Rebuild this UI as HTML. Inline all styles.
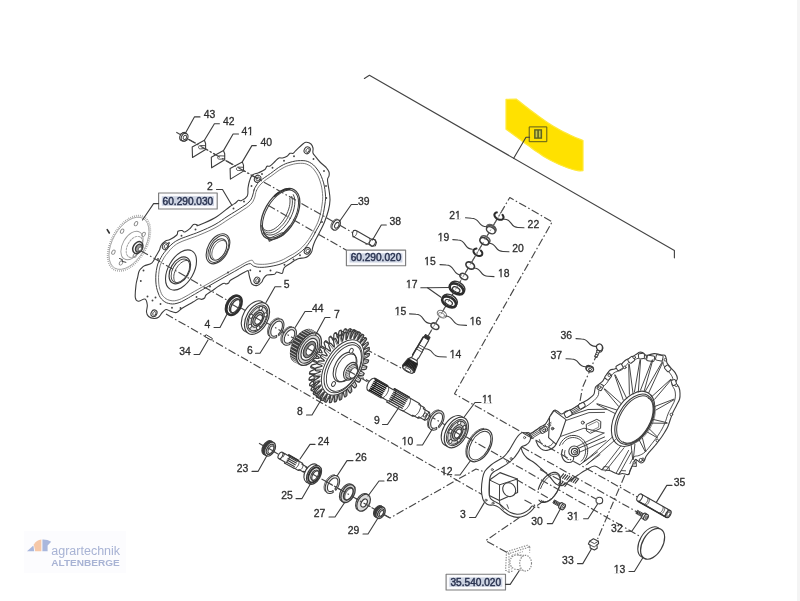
<!DOCTYPE html>
<html><head><meta charset="utf-8"><title>Parts diagram</title>
<style>
html,body{margin:0;padding:0;background:#fff;}
body{width:800px;height:601px;overflow:hidden;position:relative;font-family:"Liberation Sans",sans-serif;}
svg{position:absolute;left:0;top:0;display:block;filter:blur(0.45px);}
svg text{font-family:"Liberation Sans",sans-serif;}
.edge{position:absolute;right:0;top:0;width:3px;height:601px;background:#f4f4f4;}
</style></head><body>
<svg width="800" height="601" viewBox="0 0 800 601" fill="none" stroke-linecap="round" stroke-linejoin="round">
<path d="M506,99.4 L516.5,99.2 C519.0,101.2 519.5,101.7 525.0,106.0 C530.5,110.3 528.7,109.0 535.0,113.6 C541.3,118.2 539.2,116.9 546.0,121.4 C552.8,125.9 550.3,124.5 557.5,128.6 C564.7,132.7 562.4,131.4 570.0,135.0 C577.6,138.6 579.1,138.9 583.0,140.6 L583,170.6 L580.5,171.0 C576.8,170.1 577.1,171.3 568.0,168.0 C558.9,164.7 559.0,164.6 550.0,160.0 C541.0,155.4 544.8,157.1 538.0,152.6 C531.2,148.1 534.1,149.8 527.5,145.0 C520.9,140.2 522.5,141.3 516.0,136.6 C509.6,131.9 509.0,131.4 506.0,129.2 Z" stroke="#ffe93a" stroke-width="1.2" fill="#ffe100" />
<path d="M364.4,78.5 L369.4,75.3 L674.4,250.6 L674.4,257.8" stroke="#444" stroke-width="1.15" fill="none" />
<rect x="529.6" y="126.9" width="17.2" height="14.8" fill="#ffe100" stroke="#5c5a1c" stroke-width="1"/>
<rect x="534.1" y="129.2" width="8" height="9.6" fill="#5f6420" stroke="none"/>
<rect x="535.6" y="130.6" width="1.7" height="6.8" fill="#c9c94a"/>
<rect x="538.9" y="130.6" width="1.7" height="6.8" fill="#c9c94a"/>
<path d="M529.6,137.2 L526.0,137.2 L513.7,158.3" stroke="#3d3d3d" stroke-width="1.1" fill="none" stroke-linejoin="round"/>
<ellipse cx="129.0" cy="243.3" rx="17.50" ry="30.30" transform="rotate(29.7 129.0 243.3)" stroke="#999" stroke-width="1.7" fill="none" stroke-dasharray="0.8 1.2" stroke-linecap="butt"/>
<ellipse cx="129.0" cy="243.3" rx="16.30" ry="28.60" transform="rotate(29.7 129.0 243.3)" stroke="#9a9a9a" stroke-width="0.8" fill="none" />
<ellipse cx="134.9" cy="255.4" rx="1.50" ry="2.30" transform="rotate(29.7 134.9 255.4)" stroke="#8a8a8a" stroke-width="0.9" fill="none" />
<ellipse cx="121.0" cy="262.9" rx="1.50" ry="2.30" transform="rotate(29.7 121.0 262.9)" stroke="#8a8a8a" stroke-width="0.9" fill="none" />
<ellipse cx="113.4" cy="252.2" rx="1.50" ry="2.30" transform="rotate(29.7 113.4 252.2)" stroke="#8a8a8a" stroke-width="0.9" fill="none" />
<ellipse cx="122.1" cy="231.2" rx="1.50" ry="2.30" transform="rotate(29.7 122.1 231.2)" stroke="#8a8a8a" stroke-width="0.9" fill="none" />
<ellipse cx="136.0" cy="223.7" rx="1.50" ry="2.30" transform="rotate(29.7 136.0 223.7)" stroke="#8a8a8a" stroke-width="0.9" fill="none" />
<ellipse cx="143.6" cy="234.4" rx="1.50" ry="2.30" transform="rotate(29.7 143.6 234.4)" stroke="#8a8a8a" stroke-width="0.9" fill="none" />
<ellipse cx="132.0" cy="245.5" rx="9.30" ry="15.50" transform="rotate(29.7 132.0 245.5)" stroke="#9a9a9a" stroke-width="0.9" fill="none" />
<ellipse cx="134.5" cy="246.9" rx="7.00" ry="11.50" transform="rotate(29.7 134.5 246.9)" stroke="#9a9a9a" stroke-width="0.9" fill="none" stroke-dasharray="2 1.2"/>
<ellipse cx="137.8" cy="247.6" rx="4.60" ry="6.40" transform="rotate(29.7 137.8 247.6)" stroke="#3a3a3a" stroke-width="1.5" fill="#fff" />
<ellipse cx="138.8" cy="248.2" rx="3.00" ry="4.20" transform="rotate(29.7 138.8 248.2)" stroke="#3a3a3a" stroke-width="1.4" fill="#9a9a9a" />
<ellipse cx="140.0" cy="248.9" rx="1.50" ry="2.20" transform="rotate(29.7 140.0 248.9)" stroke="#555" stroke-width="0.8" fill="#fff" />
<path d="M119.5,258.5 l3,1.2 l-0.6,1.6 l4,1" stroke="#444" stroke-width="1"/>
<path d="M306.5,142.3 C307.9,142.4 309.8,143.0 311.0,144.0 C312.2,145.0 312.6,146.3 313.0,148.0 C313.4,149.7 312.5,151.4 313.0,153.0 C313.5,154.6 314.2,154.8 315.5,156.5 C316.8,158.2 318.4,160.3 320.0,162.0 C321.6,163.7 323.3,164.9 324.5,166.0 C325.7,167.1 325.7,166.9 326.5,168.0 C327.3,169.1 328.5,170.5 329.0,172.0 C329.5,173.5 329.3,174.5 329.0,176.0 C328.7,177.5 327.5,177.4 327.5,180.0 C327.5,182.6 328.5,186.3 329.0,190.0 C329.5,193.7 330.1,196.3 330.0,200.0 C329.9,203.7 329.5,206.0 328.5,210.0 C327.5,214.0 326.2,217.7 324.5,222.0 C322.8,226.3 320.7,230.0 319.0,233.5 C317.3,237.0 316.1,238.5 315.0,241.0 C313.9,243.5 313.4,244.9 312.8,247.0 C312.2,249.1 312.4,250.6 311.5,252.3 C310.6,254.0 309.3,255.3 308.0,256.3 C306.7,257.3 306.1,257.4 304.5,257.8 C302.9,258.2 300.6,258.1 299.0,258.5 C297.4,258.9 297.0,259.2 295.5,260.0 C294.0,260.8 292.9,261.8 291.0,263.0 C289.1,264.2 286.4,265.5 285.0,266.8 C283.6,268.1 283.9,268.8 283.3,270.0 C282.8,271.2 283.2,273.1 282.0,273.5 C280.8,273.9 278.2,271.9 276.8,272.0 C275.4,272.1 276.3,273.8 274.5,274.3 C272.7,274.9 269.0,274.2 267.0,275.0 C265.0,275.8 264.5,277.2 263.5,278.5 C262.5,279.8 262.9,280.7 261.8,282.0 C260.7,283.3 259.1,285.1 257.3,285.5 C255.5,285.9 253.3,285.2 252.0,284.0 C250.7,282.8 250.8,280.9 250.2,279.2 C249.6,277.5 249.3,275.9 249.0,274.5 C248.7,273.1 248.8,272.3 248.4,271.6 C248.0,270.9 248.7,270.1 246.8,270.9 C244.9,271.7 241.0,274.3 238.0,276.0 C235.0,277.7 232.2,278.9 230.5,280.2 C228.8,281.5 229.4,282.3 228.6,283.0 C227.8,283.7 227.0,283.9 226.0,284.0 C225.0,284.1 225.7,282.3 223.0,283.6 C220.3,284.9 214.4,289.2 211.3,291.3 C208.2,293.4 207.2,293.8 206.0,295.0 C204.8,296.2 205.4,297.2 204.6,298.0 C203.8,298.8 202.6,299.3 201.5,299.4 C200.4,299.5 200.1,298.3 198.5,298.8 C196.9,299.3 195.9,300.3 193.0,302.0 C190.1,303.7 185.5,306.1 182.5,308.0 C179.5,309.9 178.8,311.9 176.5,312.5 C174.2,313.1 171.9,311.6 170.0,311.0 C168.1,310.4 167.4,309.2 166.0,309.5 C164.6,309.8 163.7,311.1 162.3,312.5 C160.9,313.9 160.0,316.2 158.5,317.3 C157.0,318.4 155.8,318.6 154.0,318.5 C152.2,318.4 150.0,317.7 148.6,316.5 C147.2,315.3 146.7,314.1 146.5,312.0 C146.3,309.9 147.6,307.4 147.3,305.0 C147.0,302.6 146.7,299.7 145.0,299.0 C143.3,298.3 140.1,301.6 138.3,301.3 C136.5,301.0 135.7,300.5 135.3,297.5 C134.9,294.5 135.6,288.6 136.0,285.0 C136.4,281.4 136.9,280.5 137.5,278.0 C138.1,275.5 138.3,273.3 139.0,271.5 C139.7,269.7 140.3,269.3 141.3,268.3 C142.3,267.3 142.5,266.8 144.5,265.8 C146.5,264.8 149.9,264.6 152.0,262.8 C154.1,261.0 154.6,258.3 156.0,256.0 C157.4,253.7 158.6,251.9 159.5,250.0 C160.4,248.1 159.9,247.2 161.0,245.5 C162.1,243.8 163.8,242.1 165.5,241.0 C167.2,239.9 167.9,240.6 170.0,239.5 C172.1,238.4 175.3,236.5 176.8,235.0 C178.3,233.5 177.0,232.1 178.0,231.3 C179.0,230.5 180.7,230.4 182.0,230.5 C183.3,230.6 183.5,232.4 185.0,232.0 C186.5,231.6 188.4,229.9 190.0,228.5 C191.6,227.1 192.2,225.2 193.5,224.5 C194.8,223.8 196.1,224.6 197.0,224.7 C197.9,224.8 195.2,226.6 198.5,225.3 C201.8,224.0 209.2,221.2 215.0,217.8 C220.8,214.4 226.2,209.2 230.0,206.5 C233.8,203.8 233.9,204.1 235.5,203.0 C237.1,201.9 237.4,200.8 238.5,200.3 C239.6,199.8 239.9,201.3 241.5,200.5 C243.1,199.7 246.1,198.3 247.3,196.0 C248.5,193.7 247.6,190.8 248.0,188.0 C248.4,185.2 248.7,183.4 249.5,181.0 C250.3,178.6 250.8,176.5 252.5,175.0 C254.2,173.5 256.3,173.8 258.5,172.8 C260.7,171.8 262.9,171.0 264.5,169.8 C266.1,168.6 266.0,167.0 267.0,166.3 C268.0,165.6 268.5,166.9 270.0,166.0 C271.5,165.1 273.4,163.0 275.0,161.5 C276.6,160.0 277.6,158.6 279.0,158.0 C280.4,157.4 281.0,158.3 282.5,158.0 C284.0,157.7 285.6,157.2 287.0,156.3 C288.4,155.4 288.9,153.9 290.0,153.3 C291.1,152.8 292.1,153.9 293.2,153.3 C294.3,152.8 294.1,152.1 296.0,150.3 C297.9,148.5 301.6,145.0 303.5,143.5 C305.4,142.0 305.1,142.2 306.5,142.3Z" stroke="#3d3d3d" stroke-width="1.1" fill="#fff" />
<path d="M254.0,190.0 C254.7,188.0 254.8,187.8 256.0,186.0 C257.2,184.2 257.1,183.5 260.0,181.0 C262.9,178.5 266.3,176.5 270.5,173.5 C274.7,170.5 277.1,168.2 281.0,166.0 C284.9,163.8 286.1,163.4 290.0,162.3 C293.9,161.2 296.6,160.6 300.5,160.6 C304.4,160.6 306.2,160.6 309.5,162.3 C312.8,164.0 314.4,165.6 317.0,169.0 C319.6,172.4 320.8,174.7 322.5,179.5 C324.2,184.3 324.8,187.9 325.3,193.0 C325.8,198.1 325.6,199.6 324.8,205.0 C324.0,210.4 323.2,215.0 321.5,220.0 C319.8,225.0 318.6,226.0 316.5,230.0 C314.4,234.0 313.4,236.3 311.0,240.0 C308.6,243.7 307.1,245.7 304.5,248.5 C301.9,251.3 300.7,252.0 298.0,254.0 C295.3,256.0 294.2,256.6 291.0,258.5 C287.8,260.4 286.2,261.9 282.0,263.5 C277.8,265.1 274.5,265.7 270.0,266.5 C265.5,267.3 262.8,267.4 259.5,267.3 C256.2,267.2 255.7,266.7 253.5,266.0 C251.3,265.3 252.1,262.9 248.6,263.8 C245.1,264.7 240.7,268.0 236.0,270.6 C231.3,273.2 231.2,273.3 225.0,276.8 C218.8,280.3 211.4,284.5 205.0,288.2 C198.6,291.9 197.0,292.9 193.0,295.2 C189.0,297.5 188.0,298.2 185.0,299.8 C182.0,301.4 180.9,302.2 178.0,303.0 C175.1,303.8 173.5,304.3 170.5,303.8 C167.5,303.3 165.5,302.7 163.0,300.5 C160.5,298.3 159.6,296.9 158.2,293.0 C156.8,289.1 156.0,286.2 155.8,281.0 C155.6,275.8 156.0,271.7 157.0,267.0 C158.0,262.3 159.3,260.7 161.0,257.5 C162.7,254.3 163.3,253.7 165.5,251.0 C167.7,248.3 169.3,246.3 172.0,244.0 C174.7,241.7 175.8,241.1 179.0,239.5 C182.2,237.9 183.8,237.6 188.0,236.0 C192.2,234.4 194.6,233.8 200.0,231.5 C205.4,229.2 209.4,227.6 215.0,224.5 C220.6,221.4 223.0,219.2 228.0,216.0 C233.0,212.8 235.8,211.3 240.0,208.5 C244.2,205.7 246.5,204.5 249.0,202.0 C251.5,199.5 251.5,198.4 252.5,196.0 C253.5,193.6 253.3,192.0 254.0,190.0Z" stroke="#3d3d3d" stroke-width="1" fill="none" />
<path d="M256.5,190.5 C258.0,187.5 258.9,186.0 262.0,183.0 C265.1,180.0 268.0,178.4 272.0,175.5 C276.0,172.6 278.2,170.6 282.0,168.5 C285.8,166.4 287.3,165.8 291.0,164.8 C294.7,163.8 297.0,163.3 300.5,163.3 C304.0,163.3 305.6,163.5 308.5,165.0 C311.4,166.5 312.7,167.8 315.0,171.0 C317.3,174.2 318.5,176.5 320.0,181.0 C321.5,185.5 322.1,188.7 322.5,193.5 C322.9,198.3 322.7,199.9 322.0,205.0 C321.3,210.1 320.6,214.0 319.0,219.0 C317.4,224.0 316.1,225.9 314.0,230.0 C311.9,234.1 310.8,236.1 308.5,239.5 C306.2,242.9 305.0,244.2 302.5,246.8 C300.0,249.4 298.7,250.4 296.0,252.3 C293.3,254.2 292.0,254.7 289.0,256.3 C286.0,257.9 284.8,259.0 281.0,260.5 C277.2,262.0 274.2,262.8 270.0,263.6 C265.8,264.4 263.1,264.4 260.0,264.3 C256.9,264.2 256.4,264.0 254.5,263.2 C252.6,262.4 254.1,259.6 250.6,260.4 C247.1,261.2 241.9,264.8 237.0,267.4 C232.1,270.0 232.2,270.1 226.0,273.6 C219.8,277.1 212.6,281.2 206.0,284.9 C199.4,288.6 197.2,289.8 193.0,292.2 C188.8,294.6 188.0,295.2 185.0,296.8 C182.0,298.4 180.8,299.2 178.0,300.0 C175.2,300.8 173.7,301.1 171.0,300.6 C168.3,300.1 166.7,299.4 164.6,297.6 C162.5,295.8 161.8,294.8 160.6,291.5 C159.4,288.2 158.8,285.7 158.6,281.0 C158.4,276.3 158.7,272.4 159.6,268.0 C160.5,263.6 161.7,262.0 163.3,259.0 C164.9,256.0 165.5,255.5 167.5,253.0 C169.5,250.5 171.0,248.6 173.5,246.5 C176.0,244.4 176.9,243.8 180.0,242.3 C183.1,240.8 184.8,240.4 189.0,238.8 C193.2,237.2 195.6,236.6 201.0,234.3 C206.4,232.0 210.4,230.4 216.0,227.3 C221.6,224.2 224.0,222.2 229.0,219.0 C234.0,215.8 236.7,214.2 241.0,211.3 C245.3,208.4 247.8,207.2 250.5,204.5 C253.2,201.8 253.3,200.8 254.5,198.0 C255.7,195.2 255.0,193.5 256.5,190.5Z" stroke="#5a5a5a" stroke-width="0.8" fill="none" />
<ellipse cx="307.2" cy="150.3" rx="2.94" ry="3.56" transform="rotate(29.7 307.2 150.3)" stroke="#3d3d3d" stroke-width="1.05" fill="#fff" />
<ellipse cx="307.6" cy="150.5" rx="1.61" ry="2.05" transform="rotate(29.7 307.6 150.5)" stroke="#3d3d3d" stroke-width="0.85" fill="none" />
<ellipse cx="257.6" cy="178.8" rx="3.04" ry="3.68" transform="rotate(29.7 257.6 178.8)" stroke="#3d3d3d" stroke-width="1.05" fill="#fff" />
<ellipse cx="258.0" cy="179.0" rx="1.66" ry="2.11" transform="rotate(29.7 258.0 179.0)" stroke="#3d3d3d" stroke-width="0.85" fill="none" />
<ellipse cx="165.5" cy="246.3" rx="2.94" ry="3.56" transform="rotate(29.7 165.5 246.3)" stroke="#3d3d3d" stroke-width="1.05" fill="#fff" />
<ellipse cx="165.9" cy="246.5" rx="1.61" ry="2.05" transform="rotate(29.7 165.9 246.5)" stroke="#3d3d3d" stroke-width="0.85" fill="none" />
<ellipse cx="154.0" cy="313.3" rx="2.85" ry="3.45" transform="rotate(29.7 154.0 313.3)" stroke="#3d3d3d" stroke-width="1.05" fill="#fff" />
<ellipse cx="154.4" cy="313.5" rx="1.56" ry="1.98" transform="rotate(29.7 154.4 313.5)" stroke="#3d3d3d" stroke-width="0.85" fill="none" />
<ellipse cx="256.9" cy="280.3" rx="2.75" ry="3.33" transform="rotate(29.7 256.9 280.3)" stroke="#3d3d3d" stroke-width="1.05" fill="#fff" />
<ellipse cx="257.3" cy="280.5" rx="1.51" ry="1.91" transform="rotate(29.7 257.3 280.5)" stroke="#3d3d3d" stroke-width="0.85" fill="none" />
<ellipse cx="307.3" cy="250.8" rx="2.85" ry="3.45" transform="rotate(29.7 307.3 250.8)" stroke="#3d3d3d" stroke-width="1.05" fill="#fff" />
<ellipse cx="307.7" cy="251.0" rx="1.56" ry="1.98" transform="rotate(29.7 307.7 251.0)" stroke="#3d3d3d" stroke-width="0.85" fill="none" />
<circle cx="313.5" cy="159" r="0.95" fill="#444" stroke="none"/>
<circle cx="324" cy="171" r="0.95" fill="#444" stroke="none"/>
<circle cx="326.3" cy="198" r="0.95" fill="#444" stroke="none"/>
<circle cx="326" cy="186" r="0.95" fill="#444" stroke="none"/>
<circle cx="322" cy="222" r="0.95" fill="#444" stroke="none"/>
<circle cx="300" cy="255.3" r="0.95" fill="#444" stroke="none"/>
<circle cx="293.5" cy="259.5" r="0.95" fill="#444" stroke="none"/>
<circle cx="284.5" cy="264.7" r="0.95" fill="#444" stroke="none"/>
<circle cx="270.5" cy="270.5" r="0.95" fill="#444" stroke="none"/>
<circle cx="260" cy="271.3" r="0.95" fill="#444" stroke="none"/>
<circle cx="250.3" cy="270.3" r="0.95" fill="#444" stroke="none"/>
<circle cx="228" cy="272.5" r="0.95" fill="#444" stroke="none"/>
<circle cx="210" cy="286.5" r="0.95" fill="#444" stroke="none"/>
<circle cx="196.5" cy="297" r="0.95" fill="#444" stroke="none"/>
<circle cx="180.5" cy="308" r="0.95" fill="#444" stroke="none"/>
<circle cx="172" cy="307.8" r="0.95" fill="#444" stroke="none"/>
<circle cx="152.5" cy="300.5" r="0.95" fill="#444" stroke="none"/>
<circle cx="147.5" cy="296.5" r="0.95" fill="#444" stroke="none"/>
<circle cx="140.8" cy="281" r="0.95" fill="#444" stroke="none"/>
<circle cx="143.5" cy="270.5" r="0.95" fill="#444" stroke="none"/>
<circle cx="158" cy="259" r="0.95" fill="#444" stroke="none"/>
<circle cx="169" cy="243" r="0.95" fill="#444" stroke="none"/>
<circle cx="181.5" cy="235.8" r="0.95" fill="#444" stroke="none"/>
<circle cx="195.5" cy="229.5" r="0.95" fill="#444" stroke="none"/>
<circle cx="233.5" cy="208.5" r="0.95" fill="#444" stroke="none"/>
<circle cx="244" cy="201.5" r="0.95" fill="#444" stroke="none"/>
<circle cx="251.5" cy="186" r="0.95" fill="#444" stroke="none"/>
<circle cx="262" cy="174" r="0.95" fill="#444" stroke="none"/>
<circle cx="272.5" cy="167.8" r="0.95" fill="#444" stroke="none"/>
<circle cx="284" cy="160.8" r="0.95" fill="#444" stroke="none"/>
<circle cx="294" cy="156.2" r="0.95" fill="#444" stroke="none"/>
<circle cx="160.5" cy="304" r="0.95" fill="#444" stroke="none"/>
<circle cx="155.5" cy="297.5" r="0.95" fill="#444" stroke="none"/>
<ellipse cx="280.3" cy="214.0" rx="15.90" ry="28.00" transform="rotate(29.7 280.3 214.0)" stroke="#3d3d3d" stroke-width="1.25" fill="#fff" />
<ellipse cx="280.5" cy="214.1" rx="14.40" ry="26.30" transform="rotate(29.7 280.5 214.1)" stroke="#3d3d3d" stroke-width="1" fill="none" />
<path d="M293.3,194.7 L294.2,196.8 L294.7,199.2 L294.9,201.8 L294.7,204.7 L294.2,207.8 L293.4,211.0 L292.2,214.2 L290.8,217.4 L289.0,220.5 L287.1,223.4 L284.9,226.1 L282.7,228.6 L280.3,230.7 L277.9,232.4 L275.5,233.7 L273.2,234.6 L270.9,235.0 L268.8,235.0 L267.0,234.5 L265.3,233.5 L264.0,232.1 L262.9,230.3 L262.2,228.1 L261.8,225.6" stroke="#3d3d3d" stroke-width="0.95" fill="none" />
<path d="M291.7,196.4 L292.2,198.4 L292.4,200.7 L292.4,203.1 L292.1,205.7 L291.4,208.5 L290.6,211.3 L289.4,214.1 L288.1,216.9 L286.5,219.6 L284.8,222.2 L282.9,224.6 L280.9,226.7 L278.8,228.6 L276.7,230.2 L274.7,231.4 L272.6,232.3 L270.7,232.8 L268.8,232.9 L267.1,232.7 L265.6,232.0 L264.4,231.0 L263.3,229.6 L262.5,227.9 L262.0,225.9" stroke="#3d3d3d" stroke-width="0.9" fill="none" />
<path d="M289.8,198.1 L290.0,200.0 L290.0,202.0 L289.8,204.3 L289.4,206.6 L288.7,209.1 L287.8,211.5 L286.8,214.0 L285.5,216.4 L284.1,218.8 L282.6,221.0 L280.9,223.1 L279.2,225.0 L277.4,226.6 L275.6,228.0 L273.8,229.2 L272.0,230.0 L270.3,230.6 L268.7,230.8 L267.2,230.8 L265.9,230.4 L264.7,229.7 L263.7,228.7 L262.9,227.4 L262.3,225.9" stroke="#3d3d3d" stroke-width="0.9" fill="none" />
<path d="M274.8,196.0 L275.4,195.4 L276.0,194.9 L276.7,194.3 L277.3,193.8 L277.9,193.3 L278.6,192.9 L279.2,192.4 L279.9,192.0 L280.5,191.6 L281.1,191.3 L281.8,190.9 L282.4,190.6 L283.1,190.3 L283.7,190.0 L284.3,189.8 L284.9,189.6 L285.6,189.4 L286.2,189.3 L286.8,189.1 L287.4,189.0 L288.0,189.0 L288.5,188.9 L289.1,188.9 L289.7,188.9" stroke="#333" stroke-width="2.0" fill="none" />
<path d="M263.4,232.6 L268.4,238.8 L269.3,241.2 L282.8,235.2 L283.6,232.8 L289.6,226.0" stroke="#3d3d3d" stroke-width="1.05" fill="none" />
<path d="M268.4,238.8 L281.8,232.8 L283.6,232.8" stroke="#3d3d3d" stroke-width="0.9" fill="none" />
<ellipse cx="218.0" cy="248.8" rx="10.00" ry="16.30" transform="rotate(29.7 218.0 248.8)" stroke="#3d3d3d" stroke-width="1.1" fill="#fff" />
<ellipse cx="218.4" cy="249.0" rx="8.70" ry="14.60" transform="rotate(29.7 218.4 249.0)" stroke="#3d3d3d" stroke-width="0.9" fill="none" />
<ellipse cx="218.3" cy="249.5" rx="7.20" ry="11.60" transform="rotate(29.7 218.3 249.5)" stroke="#3d3d3d" stroke-width="1.1" fill="none" />
<path d="M214.1,259.0 L213.5,258.6 L212.9,257.9 L212.5,257.2 L212.1,256.3 L211.9,255.3 L211.8,254.2 L211.9,253.1 L212.1,251.9 L212.4,250.6 L212.8,249.4 L213.3,248.1 L213.9,246.9 L214.6,245.8 L215.4,244.7 L216.3,243.7 L217.2,242.8 L218.2,242.1 L219.1,241.4 L220.1,241.0 L221.1,240.6 L222.0,240.5 L222.9,240.5 L223.7,240.6 L224.5,241.0" stroke="#3d3d3d" stroke-width="0.8" fill="none" />
<ellipse cx="181.0" cy="270.0" rx="12.70" ry="22.00" transform="rotate(29.7 181.0 270.0)" stroke="#3d3d3d" stroke-width="1.1" fill="#fff" />
<ellipse cx="179.8" cy="270.4" rx="9.20" ry="14.60" transform="rotate(29.7 179.8 270.4)" stroke="#3d3d3d" stroke-width="1.2" fill="none" />
<ellipse cx="180.4" cy="270.8" rx="7.80" ry="12.80" transform="rotate(29.7 180.4 270.8)" stroke="#3d3d3d" stroke-width="0.9" fill="none" />
<path d="M177.5,283.4 L176.5,283.0 L175.7,282.5 L175.0,281.6 L174.4,280.6 L174.0,279.4 L173.8,278.1 L173.8,276.6 L173.9,275.0 L174.3,273.4 L174.8,271.7 L175.5,270.1 L176.3,268.4 L177.3,266.9 L178.4,265.4 L179.6,264.1 L180.8,263.0 L182.1,262.1 L183.4,261.3 L184.6,260.8 L185.9,260.5 L187.0,260.5 L188.1,260.7 L189.0,261.2 L189.8,261.8" stroke="#3d3d3d" stroke-width="0.9" fill="none" />
<path d="M176.3,132.3 L372.0,243.6" stroke="#484848" stroke-width="1.15" fill="none" stroke-dasharray="8 2.4 1.6 2.4" stroke-dashoffset="0.00" stroke-linecap="butt"/>
<path d="M268.0,205.3 L346.5,250.3" stroke="#484848" stroke-width="1.15" fill="none" stroke-dasharray="8 2.4 1.6 2.4" stroke-dashoffset="0.00" stroke-linecap="butt"/>
<path d="M107.2,229.6 L109.3,233" stroke="#333" stroke-width="1.6"/>
<path d="M141.0,250.9 L488.0,449.4" stroke="#484848" stroke-width="1.15" fill="none" stroke-dasharray="8 2.4 1.6 2.4" stroke-dashoffset="0.00" stroke-linecap="butt"/>
<path d="M166.0,314.0 L482.0,494.5" stroke="#484848" stroke-width="1.15" fill="none" stroke-dasharray="8 2.4 1.6 2.4" stroke-dashoffset="0.00" stroke-linecap="butt"/>
<path d="M259.0,443.2 L390.0,518.0 L476.0,469.0 L483.5,471.5" stroke="#484848" stroke-width="1.15" fill="none" stroke-dasharray="8 2.4 1.6 2.4" stroke-dashoffset="0.00" stroke-linecap="butt"/>
<path d="M365.0,348.8 L402.0,368.5" stroke="#484848" stroke-width="1.15" fill="none" stroke-dasharray="8 2.4 1.6 2.4" stroke-dashoffset="0.00" stroke-linecap="butt"/>
<path d="M427.5,337.0 L509.8,197.5 L552.2,221.8 L454.5,393.8 L523.0,433.0" stroke="#484848" stroke-width="1.15" fill="none" stroke-dasharray="8 2.4 1.6 2.4" stroke-dashoffset="0.00" stroke-linecap="butt"/>
<path d="M597.5,353.0 L582.5,387.5 L579.5,404.0" stroke="#484848" stroke-width="1.15" fill="none" stroke-dasharray="8 2.4 1.6 2.4" stroke-dashoffset="0.00" stroke-linecap="butt"/>
<path d="M611.0,507.5 L597.6,539.0" stroke="#484848" stroke-width="1.15" fill="none" stroke-dasharray="8 2.4 1.6 2.4" stroke-dashoffset="6.23" stroke-linecap="butt"/>
<path d="M543.8,500.9 L485.7,540.6 L507.0,552.5" stroke="#484848" stroke-width="1.15" fill="none" stroke-dasharray="8 2.4 1.6 2.4" stroke-dashoffset="0.00" stroke-linecap="butt"/>
<path d="M524.5,500.0 L539.4,507.9" stroke="#484848" stroke-width="1.15" fill="none" stroke-dasharray="8 2.4 1.6 2.4" stroke-dashoffset="0.00" stroke-linecap="butt"/>
<ellipse cx="183.3" cy="136.6" rx="3.30" ry="4.40" transform="rotate(29.7 183.3 136.6)" stroke="#3d3d3d" stroke-width="1.2" fill="#fff" />
<ellipse cx="184.6" cy="137.3" rx="3.10" ry="4.20" transform="rotate(29.7 184.6 137.3)" stroke="#3d3d3d" stroke-width="1.2" fill="#fff" />
<ellipse cx="184.9" cy="137.4" rx="1.60" ry="2.20" transform="rotate(29.7 184.9 137.4)" stroke="#3d3d3d" stroke-width="0.9" fill="none" />
<path d="M180.4,134.2 L182.5,132.9 L186.0,133.4" stroke="#3d3d3d" stroke-width="1" fill="none" />
<path d="M181.2,140.2 L184.5,141.2 L187.3,140.0" stroke="#3d3d3d" stroke-width="1" fill="none" />
<path d="M192.2,146.9 L204.4,140.3 L205.6,143.5 L205.6,149.5 L192.5,157.5Z" stroke="#3d3d3d" stroke-width="1.1" fill="#fff" />
<path d="M205.6,145.7 L200.2,145.5 C197.8,145.9 198.0,149.1 200.6,148.9 L205.6,148.5" stroke="#3d3d3d" stroke-width="0.9" fill="none" />
<path d="M211.3,157.2 L223.5,150.6 L224.7,153.8 L224.7,159.8 L211.6,167.8Z" stroke="#3d3d3d" stroke-width="1.1" fill="#fff" />
<path d="M224.7,156.0 L219.3,155.8 C216.9,156.2 217.1,159.4 219.7,159.2 L224.7,158.8" stroke="#3d3d3d" stroke-width="0.9" fill="none" />
<path d="M230.1,168.5 L242.3,161.9 L243.5,165.1 L243.5,171.1 L230.4,179.1Z" stroke="#3d3d3d" stroke-width="1.1" fill="#fff" />
<path d="M243.5,167.3 L238.1,167.1 C235.7,167.5 235.9,170.7 238.5,170.5 L243.5,170.1" stroke="#3d3d3d" stroke-width="0.9" fill="none" />
<path d="M188.0,139.0 L257.0,178.4" stroke="#484848" stroke-width="1.15" fill="none" stroke-dasharray="8 2.4 1.6 2.4" stroke-dashoffset="0.00" stroke-linecap="butt"/>
<ellipse cx="336.2" cy="225.0" rx="3.60" ry="5.60" transform="rotate(29.7 336.2 225.0)" stroke="#3d3d3d" stroke-width="1.2" fill="#fff" />
<ellipse cx="336.8" cy="225.3" rx="1.90" ry="3.10" transform="rotate(29.7 336.8 225.3)" stroke="#3d3d3d" stroke-width="1" fill="none" />
<path d="M331.9,229.1 L331.6,228.7 L331.3,228.3 L331.1,227.9 L331.0,227.4 L330.9,226.8 L330.9,226.3 L331.0,225.7 L331.1,225.1 L331.2,224.5 L331.4,223.9 L331.7,223.3 L332.0,222.7 L332.3,222.1 L332.7,221.6 L333.1,221.1 L333.6,220.6 L334.1,220.2 L334.6,219.9 L335.0,219.6 L335.5,219.4 L336.0,219.3 L336.5,219.2 L337.0,219.2 L337.4,219.3" stroke="#3d3d3d" stroke-width="1" fill="none" />
<path d="M353.6,230.6 L352.5,233.0 L352.8,236.0 L354.6,237.2 L366.6,243.8 L370.0,244.5 L372.0,246.3 L375.3,245.8 L376.5,242.4 L375.2,239.7 L371.8,239.0 L370.5,238.8 L357.0,231.0 L355.2,230.3Z" stroke="#3d3d3d" stroke-width="1.1" fill="#fff" />
<path d="M356.3,230.8 L356.5,231.0 L356.6,231.2 L356.8,231.4 L356.8,231.7 L356.9,232.0 L356.9,232.3 L356.9,232.7 L356.8,233.1 L356.7,233.5 L356.5,233.9 L356.4,234.3 L356.2,234.7 L355.9,235.1 L355.7,235.4 L355.4,235.8 L355.1,236.0 L354.8,236.3 L354.5,236.5 L354.2,236.7 L353.9,236.8 L353.6,236.9 L353.4,236.9 L353.1,236.8 L352.9,236.8" stroke="#3d3d3d" stroke-width="0.9" fill="none" />
<path d="M369.3,238.2 L369.5,238.4 L369.6,238.6 L369.8,238.8 L369.8,239.1 L369.9,239.4 L369.9,239.7 L369.9,240.1 L369.8,240.5 L369.7,240.9 L369.5,241.3 L369.4,241.7 L369.2,242.1 L368.9,242.5 L368.7,242.8 L368.4,243.2 L368.1,243.4 L367.8,243.7 L367.5,243.9 L367.2,244.1 L366.9,244.2 L366.6,244.3 L366.4,244.3 L366.1,244.2 L365.9,244.2" stroke="#3d3d3d" stroke-width="0.9" fill="none" />
<ellipse cx="372.4" cy="242.7" rx="2.70" ry="3.70" transform="rotate(29.7 372.4 242.7)" stroke="#3d3d3d" stroke-width="1" fill="none" />
<path d="M205.6,335.2 L205.0,336.6 L211.0,340.0 L212.2,339.6 L212.3,338.4 L206.6,335.0Z" stroke="#3d3d3d" stroke-width="1" fill="#fff" />
<ellipse cx="233.0" cy="304.8" rx="6.60" ry="10.60" transform="rotate(29.7 233.0 304.8)" stroke="#3d3d3d" stroke-width="1.2" fill="#fff" />
<ellipse cx="234.0" cy="305.4" rx="6.50" ry="10.40" transform="rotate(29.7 234.0 305.4)" stroke="#2f2f2f" stroke-width="2.6" fill="#fff" />
<ellipse cx="234.6" cy="305.7" rx="4.40" ry="7.60" transform="rotate(29.7 234.6 305.7)" stroke="#3d3d3d" stroke-width="1.2" fill="#fff" />
<path d="M233.5,313.3 L232.8,313.2 L232.1,313.0 L231.6,312.6 L231.1,312.1 L230.8,311.4 L230.6,310.6 L230.6,309.7 L230.6,308.6 L230.8,307.6 L231.2,306.5 L231.6,305.4 L232.2,304.3 L232.8,303.3 L233.5,302.3 L234.3,301.5 L235.1,300.8 L236.0,300.2 L236.8,299.8 L237.6,299.5 L238.4,299.4 L239.1,299.6 L239.7,299.8 L240.2,300.3 L240.6,300.9" stroke="#3d3d3d" stroke-width="1.4" fill="none" />
<path d="M231.0,303.7 L239.0,308.3" stroke="#484848" stroke-width="1.15" fill="none" stroke-dasharray="8 2.4 1.6 2.4" stroke-dashoffset="0.00" stroke-linecap="butt"/>
<ellipse cx="253.8" cy="316.7" rx="10.60" ry="17.20" transform="rotate(29.7 253.8 316.7)" stroke="#3d3d3d" stroke-width="1.1" fill="#fff" />
<ellipse cx="257.0" cy="318.5" rx="10.60" ry="17.20" transform="rotate(29.7 257.0 318.5)" stroke="#3d3d3d" stroke-width="1.2" fill="#fff" />
<ellipse cx="257.2" cy="318.6" rx="8.80" ry="14.80" transform="rotate(29.7 257.2 318.6)" stroke="#3d3d3d" stroke-width="1" fill="none" />
<ellipse cx="257.4" cy="318.7" rx="7.80" ry="13.20" transform="rotate(29.7 257.4 318.7)" stroke="#3d3d3d" stroke-width="1" fill="#e4e4e4" />
<ellipse cx="258.2" cy="327.6" rx="1.60" ry="2.10" transform="rotate(29.7 258.2 327.6)" stroke="#3d3d3d" stroke-width="0.9" fill="#fff" />
<ellipse cx="249.9" cy="326.3" rx="1.60" ry="2.10" transform="rotate(29.7 249.9 326.3)" stroke="#3d3d3d" stroke-width="0.9" fill="#fff" />
<ellipse cx="251.2" cy="316.3" rx="1.60" ry="2.10" transform="rotate(29.7 251.2 316.3)" stroke="#3d3d3d" stroke-width="0.9" fill="#fff" />
<ellipse cx="260.7" cy="308.3" rx="1.60" ry="2.10" transform="rotate(29.7 260.7 308.3)" stroke="#3d3d3d" stroke-width="0.9" fill="#fff" />
<ellipse cx="265.4" cy="314.9" rx="1.60" ry="2.10" transform="rotate(29.7 265.4 314.9)" stroke="#3d3d3d" stroke-width="0.9" fill="#fff" />
<ellipse cx="257.6" cy="318.8" rx="5.30" ry="9.20" transform="rotate(29.7 257.6 318.8)" stroke="#3d3d3d" stroke-width="1.2" fill="#fff" />
<ellipse cx="257.8" cy="319.0" rx="4.10" ry="7.20" transform="rotate(29.7 257.8 319.0)" stroke="#3d3d3d" stroke-width="1.3" fill="#bdbdbd" />
<ellipse cx="258.6" cy="319.5" rx="2.90" ry="5.20" transform="rotate(29.7 258.6 319.5)" stroke="#3d3d3d" stroke-width="1" fill="#fff" />
<path d="M254.0,316.8 L263.0,321.9" stroke="#484848" stroke-width="1.15" fill="none" stroke-dasharray="8 2.4 1.6 2.4" stroke-dashoffset="0.00" stroke-linecap="butt"/>
<path d="M276.7,337.1 L275.6,337.7 L274.5,338.0 L273.4,338.1 L272.3,338.0 L271.4,337.7 L270.6,337.2 L269.9,336.5 L269.3,335.6 L268.9,334.6 L268.7,333.4 L268.6,332.1 L268.7,330.7 L269.0,329.3 L269.5,327.8 L270.1,326.4 L270.8,325.0 L271.7,323.7 L272.6,322.5 L273.7,321.4 L274.8,320.5 L275.9,319.8 L277.1,319.2 L278.2,318.9 L279.3,318.8 L280.3,318.9 L281.3,319.2 L282.1,319.7 L282.8,320.5 L283.3,321.4 L283.7,322.4 L283.9,323.6 L284.0,324.9 L283.8,326.3 L283.6,327.8 L283.1,329.2 L282.5,330.6 L281.7,332.0 L280.9,333.3 L279.9,334.5 L278.8,335.6 L278.3,334.1 L279.1,333.3 L279.9,332.3 L280.6,331.3 L281.2,330.2 L281.6,329.1 L282.0,327.9 L282.3,326.8 L282.4,325.7 L282.4,324.7 L282.3,323.8 L282.0,323.0 L281.6,322.3 L281.1,321.7 L280.5,321.4 L279.9,321.1 L279.1,321.1 L278.3,321.2 L277.4,321.5 L276.6,321.9 L275.7,322.5 L274.8,323.3 L274.0,324.1 L273.3,325.1 L272.6,326.1 L272.0,327.2 L271.5,328.3 L271.2,329.5 L270.9,330.6 L270.8,331.7 L270.8,332.7 L270.9,333.6 L271.2,334.4 L271.6,335.1 L272.1,335.6 L272.7,336.0 L273.4,336.2 L274.2,336.2 L275.0,336.1 L275.8,335.8 L276.7,335.4Z" stroke="#3d3d3d" stroke-width="1.05" fill="#e3e3e3" />
<path d="M268.7,335.8 L268.3,335.1 L268.0,334.4 L267.7,333.6 L267.6,332.7 L267.5,331.8 L267.6,330.8 L267.7,329.8 L267.9,328.7 L268.2,327.7 L268.6,326.6 L269.0,325.6 L269.6,324.6 L270.2,323.6 L270.8,322.7 L271.5,321.8 L272.3,321.0 L273.1,320.3 L273.9,319.7 L274.7,319.2 L275.6,318.8 L276.4,318.4 L277.2,318.2 L278.0,318.1 L278.8,318.2" stroke="#3d3d3d" stroke-width="0.9" fill="none" />
<path d="M290.2,344.1 L289.1,344.7 L288.0,345.1 L286.9,345.3 L285.9,345.3 L285.0,345.0 L284.1,344.6 L283.4,344.0 L282.8,343.2 L282.4,342.2 L282.1,341.1 L282.0,339.9 L282.0,338.6 L282.2,337.3 L282.6,335.9 L283.1,334.5 L283.8,333.2 L284.6,331.9 L285.5,330.8 L286.5,329.7 L287.6,328.8 L288.7,328.1 L289.8,327.6 L290.9,327.3 L291.9,327.2 L292.9,327.3 L293.8,327.6 L294.6,328.1 L295.3,328.8 L295.8,329.7 L296.2,330.7 L296.4,331.9 L296.4,333.1 L296.3,334.5 L296.0,335.8 L295.6,337.2 L295.0,338.6 L294.3,339.9 L293.4,341.1 L292.5,342.2 L291.4,343.2 L290.9,341.5 L291.6,340.7 L292.3,339.9 L293.0,339.0 L293.5,338.0 L294.0,337.0 L294.3,335.9 L294.6,334.9 L294.7,333.9 L294.7,333.0 L294.6,332.2 L294.4,331.4 L294.0,330.8 L293.5,330.3 L293.0,329.9 L292.4,329.7 L291.7,329.7 L290.9,329.8 L290.1,330.1 L289.3,330.5 L288.6,331.0 L287.8,331.7 L287.1,332.5 L286.4,333.4 L285.8,334.3 L285.3,335.3 L284.9,336.4 L284.5,337.4 L284.4,338.4 L284.3,339.4 L284.3,340.3 L284.5,341.1 L284.8,341.8 L285.2,342.3 L285.7,342.8 L286.3,343.1 L286.9,343.2 L287.6,343.2 L288.4,343.0 L289.2,342.7 L290.0,342.2Z" stroke="#3d3d3d" stroke-width="1.05" fill="#e3e3e3" />
<path d="M282.0,343.0 L281.6,342.4 L281.3,341.7 L281.1,341.0 L280.9,340.1 L280.9,339.3 L280.9,338.3 L281.0,337.4 L281.2,336.4 L281.4,335.4 L281.8,334.4 L282.2,333.5 L282.7,332.5 L283.3,331.6 L283.9,330.8 L284.6,329.9 L285.3,329.2 L286.0,328.6 L286.8,328.0 L287.6,327.5 L288.4,327.1 L289.1,326.8 L289.9,326.6 L290.7,326.5 L291.4,326.6" stroke="#3d3d3d" stroke-width="0.9" fill="none" />
<ellipse cx="303.1" cy="345.8" rx="10.40" ry="18.00" transform="rotate(29.7 303.1 345.8)" stroke="#3d3d3d" stroke-width="1.1" fill="#3c3c3c" />
<path d="M294.2,361.4 L300.1,364.8 L317.9,333.5 L312.0,330.2Z" stroke="#3d3d3d" stroke-width="1" fill="#3c3c3c" />
<path d="M293.6,361.0 L299.5,364.4" stroke="#cfcfcf" stroke-width="0.85" fill="none" />
<path d="M292.1,359.6 L298.0,362.9" stroke="#cfcfcf" stroke-width="0.85" fill="none" />
<path d="M291.1,357.6 L297.0,361.0" stroke="#cfcfcf" stroke-width="0.85" fill="none" />
<path d="M290.5,355.2 L296.4,358.6" stroke="#cfcfcf" stroke-width="0.85" fill="none" />
<path d="M290.4,352.4 L296.3,355.8" stroke="#cfcfcf" stroke-width="0.85" fill="none" />
<path d="M290.8,349.4 L296.7,352.8" stroke="#cfcfcf" stroke-width="0.85" fill="none" />
<path d="M291.6,346.3 L297.5,349.7" stroke="#cfcfcf" stroke-width="0.85" fill="none" />
<path d="M292.8,343.2 L298.7,346.5" stroke="#cfcfcf" stroke-width="0.85" fill="none" />
<path d="M294.4,340.1 L300.3,343.5" stroke="#cfcfcf" stroke-width="0.85" fill="none" />
<path d="M296.3,337.3 L302.2,340.6" stroke="#cfcfcf" stroke-width="0.85" fill="none" />
<path d="M298.5,334.7 L304.4,338.1" stroke="#cfcfcf" stroke-width="0.85" fill="none" />
<path d="M300.8,332.6 L306.7,336.0" stroke="#cfcfcf" stroke-width="0.85" fill="none" />
<path d="M303.2,331.0 L309.1,334.3" stroke="#cfcfcf" stroke-width="0.85" fill="none" />
<path d="M305.7,329.9 L311.6,333.2" stroke="#cfcfcf" stroke-width="0.85" fill="none" />
<path d="M308.0,329.4 L313.9,332.7" stroke="#cfcfcf" stroke-width="0.85" fill="none" />
<path d="M310.1,329.5 L316.0,332.8" stroke="#cfcfcf" stroke-width="0.85" fill="none" />
<ellipse cx="309.0" cy="349.2" rx="10.20" ry="17.70" transform="rotate(29.7 309.0 349.2)" stroke="#3d3d3d" stroke-width="1.3" fill="#fff" />
<ellipse cx="309.0" cy="349.2" rx="8.80" ry="15.40" transform="rotate(29.7 309.0 349.2)" stroke="#3d3d3d" stroke-width="1" fill="#d6d6d6" />
<ellipse cx="309.3" cy="349.4" rx="6.80" ry="12.00" transform="rotate(29.7 309.3 349.4)" stroke="#3d3d3d" stroke-width="1.1" fill="#fff" />
<ellipse cx="309.5" cy="349.5" rx="5.10" ry="9.00" transform="rotate(29.7 309.5 349.5)" stroke="#3d3d3d" stroke-width="1.2" fill="#8a8a8a" />
<ellipse cx="310.2" cy="349.9" rx="3.20" ry="5.80" transform="rotate(29.7 310.2 349.9)" stroke="#3d3d3d" stroke-width="1" fill="#fff" />
<path d="M307.0,348.1 L319.0,354.9" stroke="#484848" stroke-width="1.15" fill="none" stroke-dasharray="8 2.4 1.6 2.4" stroke-dashoffset="0.00" stroke-linecap="butt"/>
<path d="M352.9,373.5 C353.4,374.5 354.6,375.2 355.2,376.3 C355.8,377.4 355.3,377.0 355.1,377.6 C354.9,378.2 355.0,378.1 354.5,378.4 C354.1,378.8 354.6,379.2 353.4,379.0 C352.3,378.8 351.3,377.8 350.3,377.7 C349.2,377.5 349.4,377.4 349.6,378.5 C349.9,379.7 350.9,380.8 351.2,382.1 C351.6,383.4 351.2,382.9 350.9,383.5 C350.7,384.1 350.7,384.0 350.3,384.3 C349.8,384.6 350.2,385.1 349.2,384.6 C348.2,384.1 347.5,382.7 346.6,382.3 C345.7,381.9 345.8,381.8 345.9,383.1 C345.9,384.4 346.6,385.8 346.7,387.3 C346.8,388.8 346.5,388.1 346.2,388.7 C345.9,389.2 346.0,389.2 345.5,389.4 C345.1,389.5 345.3,390.2 344.5,389.4 C343.7,388.6 343.2,387.0 342.5,386.3 C341.8,385.7 341.9,385.6 341.7,387.0 C341.6,388.4 342.0,390.0 341.8,391.6 C341.7,393.2 341.5,392.5 341.2,393.0 C340.8,393.5 340.9,393.4 340.4,393.5 C340.0,393.6 340.1,394.4 339.5,393.3 C338.9,392.2 338.8,390.4 338.2,389.5 C337.7,388.7 337.8,388.6 337.4,390.0 C337.1,391.5 337.2,393.3 336.8,395.0 C336.4,396.7 336.4,395.8 336.0,396.3 C335.5,396.7 335.6,396.7 335.2,396.6 C334.8,396.6 334.8,397.4 334.4,396.2 C334.1,394.9 334.2,392.9 333.9,391.8 C333.5,390.7 333.7,390.7 333.1,392.1 C332.5,393.6 332.3,395.6 331.7,397.2 C331.1,398.9 331.2,398.0 330.8,398.4 C330.3,398.7 330.4,398.7 330.1,398.6 C329.7,398.4 329.5,399.3 329.4,397.8 C329.3,396.4 329.8,394.3 329.7,393.1 C329.5,391.8 329.7,391.8 328.9,393.2 C328.2,394.6 327.7,396.6 326.8,398.3 C326.0,399.9 326.3,399.0 325.8,399.2 C325.3,399.5 325.4,399.5 325.1,399.2 C324.8,399.0 324.5,399.9 324.7,398.3 C324.8,396.7 325.6,394.7 325.7,393.3 C325.8,391.9 325.9,392.0 325.0,393.2 C324.1,394.5 323.3,396.6 322.3,398.0 C321.3,399.5 321.7,398.6 321.2,398.8 C320.8,399.0 320.8,399.0 320.6,398.6 C320.4,398.3 320.0,399.2 320.4,397.5 C320.8,395.9 321.8,393.9 322.1,392.5 C322.4,391.0 322.5,391.1 321.5,392.2 C320.5,393.3 319.4,395.3 318.3,396.6 C317.1,397.9 317.6,397.1 317.2,397.1 C316.8,397.2 316.8,397.2 316.7,396.8 C316.5,396.4 316.0,397.2 316.7,395.6 C317.3,393.9 318.5,392.0 319.0,390.6 C319.6,389.2 319.7,389.3 318.6,390.2 C317.5,391.1 316.2,392.9 314.9,394.0 C313.7,395.1 314.3,394.3 313.9,394.3 C313.5,394.2 313.5,394.3 313.5,393.8 C313.4,393.3 312.8,394.0 313.7,392.4 C314.5,390.8 315.9,389.2 316.6,387.8 C317.3,386.4 317.4,386.5 316.3,387.2 C315.1,387.8 313.7,389.5 312.4,390.3 C311.1,391.1 311.7,390.5 311.4,390.3 C311.0,390.1 311.1,390.2 311.1,389.7 C311.1,389.1 310.5,389.8 311.5,388.3 C312.5,386.8 314.1,385.4 314.9,384.1 C315.8,382.8 315.8,382.9 314.7,383.3 C313.6,383.8 312.0,385.1 310.7,385.7 C309.4,386.2 310.1,385.7 309.8,385.4 C309.5,385.1 309.5,385.2 309.6,384.6 C309.8,384.1 309.1,384.6 310.2,383.3 C311.4,381.9 313.0,380.9 314.0,379.7 C315.0,378.5 315.0,378.7 313.9,378.8 C312.8,379.0 311.2,380.0 309.9,380.2 C308.7,380.5 309.4,380.1 309.2,379.7 C309.0,379.3 309.0,379.5 309.2,378.9 C309.4,378.3 308.6,378.6 309.9,377.5 C311.2,376.4 312.8,375.7 313.9,374.7 C315.0,373.7 315.0,373.9 314.0,373.8 C313.0,373.6 311.3,374.3 310.1,374.2 C309.0,374.1 309.7,373.9 309.6,373.5 C309.4,373.0 309.4,373.1 309.7,372.6 C310.0,372.0 309.2,372.2 310.6,371.3 C311.9,370.5 313.5,370.1 314.6,369.3 C315.8,368.6 315.7,368.8 314.9,368.4 C314.0,368.0 312.4,368.2 311.3,367.8 C310.3,367.4 310.9,367.4 310.9,366.9 C310.9,366.4 310.8,366.5 311.2,365.9 C311.5,365.4 310.8,365.4 312.2,364.8 C313.5,364.3 315.0,364.3 316.2,363.8 C317.3,363.2 317.2,363.5 316.5,362.8 C315.8,362.1 314.3,362.0 313.4,361.3 C312.5,360.6 313.1,360.7 313.2,360.2 C313.2,359.6 313.2,359.7 313.6,359.2 C314.0,358.8 313.4,358.6 314.6,358.3 C315.9,358.1 317.3,358.5 318.4,358.3 C319.6,358.0 319.5,358.2 318.9,357.3 C318.3,356.4 317.0,355.9 316.3,354.9 C315.6,353.9 316.2,354.2 316.3,353.6 C316.5,353.0 316.4,353.2 316.8,352.7 C317.3,352.3 316.7,352.0 317.9,352.0 C319.1,352.1 320.3,352.9 321.3,352.9 C322.4,352.9 322.3,353.1 321.9,352.0 C321.6,350.9 320.4,350.0 320.0,348.8 C319.5,347.6 320.0,348.0 320.2,347.4 C320.4,346.9 320.3,347.0 320.8,346.6 C321.2,346.3 320.8,345.8 321.9,346.2 C323.0,346.5 323.8,347.7 324.8,348.0 C325.8,348.2 325.6,348.4 325.5,347.2 C325.3,345.9 324.5,344.7 324.2,343.3 C324.0,341.9 324.4,342.4 324.7,341.9 C324.9,341.3 324.9,341.4 325.3,341.1 C325.8,340.9 325.5,340.3 326.4,341.0 C327.3,341.6 327.9,343.1 328.7,343.6 C329.5,344.2 329.4,344.3 329.4,342.9 C329.5,341.5 328.9,340.0 329.0,338.5 C329.0,336.9 329.2,337.6 329.6,337.1 C329.9,336.6 329.8,336.6 330.3,336.5 C330.7,336.4 330.5,335.6 331.2,336.6 C331.9,337.5 332.2,339.2 332.9,340.0 C333.5,340.8 333.4,340.9 333.7,339.4 C333.9,338.0 333.7,336.3 333.9,334.6 C334.2,333.0 334.3,333.8 334.7,333.3 C335.1,332.8 335.0,332.9 335.4,332.8 C335.9,332.8 335.8,332.0 336.3,333.2 C336.8,334.4 336.8,336.3 337.2,337.3 C337.7,338.2 337.5,338.3 338.0,336.9 C338.5,335.4 338.5,333.5 339.0,331.8 C339.5,330.1 339.5,331.0 339.9,330.6 C340.4,330.2 340.3,330.2 340.6,330.3 C341.0,330.4 341.1,329.5 341.3,330.9 C341.6,332.3 341.3,334.3 341.5,335.5 C341.8,336.6 341.6,336.7 342.3,335.3 C342.9,333.8 343.3,331.8 344.0,330.2 C344.8,328.5 344.6,329.4 345.0,329.1 C345.5,328.8 345.4,328.8 345.7,329.0 C346.0,329.2 346.3,328.3 346.2,329.8 C346.2,331.3 345.6,333.4 345.6,334.7 C345.7,336.0 345.5,336.0 346.3,334.7 C347.2,333.4 347.8,331.3 348.8,329.7 C349.7,328.2 349.4,329.1 349.8,328.9 C350.3,328.7 350.2,328.7 350.5,328.9 C350.7,329.2 351.1,328.3 350.8,330.0 C350.5,331.6 349.6,333.6 349.4,335.0 C349.2,336.4 349.1,336.4 350.1,335.2 C351.0,334.0 352.0,332.0 353.0,330.6 C354.1,329.2 353.7,330.0 354.1,329.9 C354.6,329.8 354.5,329.8 354.7,330.2 C354.9,330.6 355.3,329.7 354.8,331.4 C354.3,333.0 353.2,335.0 352.8,336.4 C352.4,337.8 352.2,337.8 353.3,336.7 C354.4,335.7 355.5,333.8 356.7,332.6 C358.0,331.4 357.4,332.2 357.8,332.2 C358.2,332.2 358.2,332.2 358.3,332.6 C358.4,333.1 359.0,332.3 358.2,333.9 C357.5,335.6 356.1,337.3 355.5,338.7 C354.9,340.2 354.8,340.1 355.9,339.3 C357.1,338.5 358.4,336.7 359.7,335.8 C361.0,334.8 360.4,335.5 360.8,335.6 C361.1,335.7 361.1,335.7 361.1,336.2 C361.1,336.7 361.7,336.0 360.8,337.6 C359.9,339.1 358.4,340.7 357.6,342.0 C356.8,343.4 356.7,343.2 357.9,342.7 C359.0,342.1 360.5,340.7 361.9,340.0 C363.2,339.3 362.5,339.9 362.8,340.1 C363.1,340.3 363.1,340.2 363.0,340.8 C362.9,341.3 363.6,340.8 362.5,342.2 C361.4,343.6 359.8,344.8 358.9,346.1 C358.0,347.3 357.9,347.2 359.1,346.9 C360.2,346.6 361.8,345.4 363.1,345.0 C364.4,344.6 363.7,345.1 363.9,345.4 C364.1,345.7 364.1,345.6 364.0,346.2 C363.8,346.8 364.5,346.4 363.3,347.6 C362.1,348.8 360.5,349.7 359.4,350.8 C358.4,351.9 358.4,351.7 359.4,351.7 C360.5,351.7 362.1,350.8 363.4,350.8 C364.6,350.7 363.9,351.0 364.0,351.4 C364.2,351.8 364.2,351.7 364.0,352.3 C363.7,352.9 364.5,352.6 363.2,353.6 C361.9,354.6 360.2,355.1 359.1,356.0 C358.0,356.9 358.0,356.7 359.0,357.0 C359.9,357.2 361.5,356.7 362.7,357.0 C363.8,357.2 363.1,357.4 363.2,357.9 C363.2,358.3 363.3,358.2 363.0,358.8 C362.7,359.3 363.4,359.2 362.0,360.0 C360.7,360.7 359.1,360.8 358.0,361.5 C356.8,362.1 356.9,361.9 357.7,362.5 C358.5,363.0 360.1,362.9 361.0,363.5 C362.0,364.0 361.3,364.0 361.3,364.5 C361.3,365.1 361.4,364.9 361.0,365.5 C360.6,366.0 361.3,366.1 360.0,366.5 C358.7,366.9 357.2,366.6 356.1,367.0 C354.9,367.5 355.0,367.3 355.7,368.0 C356.3,368.8 357.7,369.1 358.5,370.0 C359.3,370.8 358.7,370.6 358.6,371.2 C358.5,371.8 358.6,371.6 358.2,372.1 C357.8,372.6 358.3,372.8 357.1,372.9 C355.8,373.0 354.6,372.4 353.5,372.5 C352.4,372.7 352.5,372.5 352.9,373.5Z" stroke="#3d3d3d" stroke-width="1.25" fill="#fff" />
<path d="M320.9,398.7 L325.6,401.9" stroke="#3d3d3d" stroke-width="1.15" fill="none" />
<path d="M316.9,397.0 L321.6,400.1" stroke="#3d3d3d" stroke-width="1.15" fill="none" />
<path d="M313.7,394.0 L318.3,397.1" stroke="#3d3d3d" stroke-width="1.15" fill="none" />
<path d="M311.2,390.0 L315.8,393.0" stroke="#3d3d3d" stroke-width="1.15" fill="none" />
<path d="M309.7,385.0 L314.2,388.0" stroke="#3d3d3d" stroke-width="1.15" fill="none" />
<path d="M309.2,379.3 L313.7,382.2" stroke="#3d3d3d" stroke-width="1.15" fill="none" />
<path d="M309.6,373.0 L314.1,375.8" stroke="#3d3d3d" stroke-width="1.15" fill="none" />
<path d="M311.0,366.4 L315.5,369.1" stroke="#3d3d3d" stroke-width="1.15" fill="none" />
<path d="M313.4,359.7 L317.9,362.4" stroke="#3d3d3d" stroke-width="1.15" fill="none" />
<path d="M316.6,353.2 L321.1,355.8" stroke="#3d3d3d" stroke-width="1.15" fill="none" />
<path d="M320.5,347.0 L325.0,349.5" stroke="#3d3d3d" stroke-width="1.15" fill="none" />
<path d="M325.0,341.5 L329.6,344.0" stroke="#3d3d3d" stroke-width="1.15" fill="none" />
<path d="M329.9,336.8 L334.6,339.2" stroke="#3d3d3d" stroke-width="1.15" fill="none" />
<path d="M335.1,333.1 L339.8,335.4" stroke="#3d3d3d" stroke-width="1.15" fill="none" />
<path d="M340.3,330.4 L345.1,332.8" stroke="#3d3d3d" stroke-width="1.15" fill="none" />
<path d="M345.4,329.0 L350.3,331.4" stroke="#3d3d3d" stroke-width="1.15" fill="none" />
<path d="M350.1,328.9 L355.1,331.3" stroke="#3d3d3d" stroke-width="1.15" fill="none" />
<path d="M354.4,330.0 L359.5,332.5" stroke="#3d3d3d" stroke-width="1.15" fill="none" />
<path d="M358.1,332.4 L363.2,334.9" stroke="#3d3d3d" stroke-width="1.15" fill="none" />
<path d="M360.9,335.9 L366.1,338.4" stroke="#3d3d3d" stroke-width="1.15" fill="none" />
<path d="M357.7,376.2 C358.3,377.3 359.7,378.1 360.4,379.2 C361.1,380.4 360.5,380.0 360.3,380.6 C360.1,381.2 360.2,381.1 359.7,381.4 C359.3,381.8 359.9,382.3 358.6,382.0 C357.4,381.7 356.2,380.6 355.1,380.3 C354.0,380.1 354.1,379.9 354.4,381.2 C354.8,382.5 355.9,383.7 356.4,385.1 C356.8,386.6 356.3,386.0 356.1,386.5 C355.8,387.1 355.9,387.0 355.4,387.3 C355.0,387.6 355.4,388.3 354.3,387.6 C353.3,387.0 352.4,385.5 351.4,384.9 C350.4,384.4 350.6,384.3 350.7,385.7 C350.8,387.2 351.7,388.8 351.8,390.4 C352.0,392.0 351.6,391.2 351.3,391.8 C351.0,392.3 351.1,392.3 350.6,392.5 C350.1,392.7 350.4,393.5 349.6,392.5 C348.7,391.6 348.2,389.7 347.4,388.9 C346.6,388.1 346.8,387.9 346.6,389.5 C346.5,391.1 347.0,393.0 346.9,394.8 C346.8,396.5 346.6,395.6 346.2,396.1 C345.8,396.6 345.9,396.6 345.5,396.7 C345.0,396.8 345.1,397.7 344.5,396.5 C343.9,395.2 343.7,393.1 343.2,392.0 C342.6,391.0 342.8,390.9 342.4,392.5 C342.0,394.1 342.1,396.3 341.8,398.2 C341.4,400.0 341.3,399.0 340.9,399.4 C340.5,399.9 340.6,399.8 340.2,399.8 C339.8,399.8 339.7,400.8 339.4,399.3 C339.0,397.9 339.2,395.5 338.9,394.3 C338.5,393.0 338.7,392.9 338.1,394.6 C337.5,396.2 337.3,398.5 336.6,400.4 C336.0,402.3 336.1,401.2 335.7,401.5 C335.2,401.9 335.3,401.9 334.9,401.7 C334.6,401.6 334.4,402.7 334.3,401.0 C334.2,399.4 334.8,397.0 334.7,395.5 C334.6,394.1 334.7,394.1 333.9,395.6 C333.1,397.2 332.5,399.6 331.6,401.4 C330.8,403.2 331.1,402.1 330.6,402.4 C330.1,402.7 330.2,402.7 329.9,402.4 C329.6,402.2 329.3,403.3 329.5,401.5 C329.7,399.7 330.6,397.3 330.7,395.7 C330.9,394.2 331.0,394.2 330.0,395.7 C329.1,397.1 328.1,399.5 327.0,401.2 C326.0,402.9 326.4,401.8 326.0,402.0 C325.5,402.1 325.6,402.1 325.3,401.8 C325.1,401.5 324.6,402.5 325.1,400.7 C325.6,398.8 326.8,396.5 327.2,394.9 C327.6,393.3 327.7,393.3 326.6,394.6 C325.5,395.9 324.2,398.2 323.0,399.7 C321.7,401.2 322.3,400.2 321.9,400.3 C321.4,400.3 321.5,400.3 321.3,399.9 C321.2,399.5 320.6,400.5 321.3,398.7 C322.0,396.8 323.5,394.7 324.1,393.0 C324.7,391.4 324.9,391.5 323.6,392.6 C322.4,393.7 320.9,395.8 319.5,397.1 C318.2,398.3 318.9,397.4 318.5,397.3 C318.1,397.3 318.1,397.3 318.1,396.8 C318.0,396.3 317.3,397.3 318.2,395.5 C319.2,393.7 320.9,391.8 321.7,390.2 C322.5,388.7 322.6,388.8 321.3,389.6 C320.1,390.5 318.4,392.4 316.9,393.3 C315.5,394.3 316.3,393.5 315.9,393.3 C315.6,393.2 315.6,393.2 315.6,392.7 C315.7,392.1 314.9,392.9 316.0,391.3 C317.2,389.7 319.0,388.0 320.0,386.6 C321.0,385.1 321.1,385.3 319.8,385.8 C318.5,386.4 316.7,388.0 315.2,388.6 C313.7,389.3 314.6,388.6 314.3,388.3 C314.0,388.1 314.0,388.2 314.2,387.6 C314.3,387.0 313.4,387.6 314.7,386.2 C316.0,384.8 317.9,383.5 319.1,382.2 C320.2,380.9 320.2,381.1 319.0,381.4 C317.8,381.6 315.8,382.8 314.4,383.1 C313.0,383.5 313.9,383.0 313.7,382.6 C313.5,382.2 313.5,382.3 313.6,381.7 C313.8,381.2 313.0,381.6 314.4,380.4 C315.8,379.2 317.7,378.4 319.0,377.3 C320.2,376.2 320.2,376.4 319.0,376.4 C317.9,376.3 315.9,377.1 314.6,377.0 C313.3,377.0 314.1,376.7 314.0,376.3 C313.9,375.8 313.9,375.9 314.2,375.4 C314.4,374.8 313.6,375.0 315.0,374.1 C316.5,373.2 318.4,372.8 319.7,372.0 C321.0,371.2 320.9,371.4 319.9,371.0 C318.8,370.6 317.0,371.0 315.8,370.6 C314.6,370.2 315.4,370.1 315.4,369.6 C315.3,369.1 315.3,369.2 315.6,368.7 C316.0,368.1 315.2,368.1 316.6,367.6 C318.1,367.0 319.9,367.1 321.2,366.5 C322.5,366.0 322.4,366.2 321.5,365.5 C320.6,364.8 318.9,364.7 317.9,364.0 C316.9,363.3 317.6,363.4 317.7,362.8 C317.7,362.3 317.7,362.4 318.1,361.9 C318.5,361.4 317.7,361.2 319.1,361.0 C320.6,360.7 322.1,361.3 323.4,361.0 C324.7,360.8 324.5,361.0 323.9,360.1 C323.2,359.1 321.6,358.5 320.8,357.5 C320.0,356.5 320.7,356.8 320.8,356.2 C321.0,355.6 320.9,355.7 321.3,355.3 C321.8,354.9 321.1,354.5 322.4,354.6 C323.8,354.7 325.1,355.7 326.3,355.8 C327.4,355.8 327.3,356.0 326.9,354.8 C326.4,353.7 325.1,352.6 324.5,351.3 C324.0,350.0 324.5,350.6 324.8,350.0 C325.0,349.4 324.9,349.5 325.4,349.1 C325.8,348.8 325.3,348.2 326.4,348.7 C327.6,349.1 328.7,350.5 329.7,350.9 C330.7,351.3 330.6,351.4 330.4,350.1 C330.1,348.7 329.1,347.3 328.8,345.7 C328.6,344.2 329.0,344.9 329.3,344.3 C329.6,343.8 329.5,343.8 329.9,343.6 C330.4,343.4 330.0,342.6 331.0,343.4 C332.0,344.2 332.7,345.9 333.6,346.6 C334.4,347.3 334.3,347.4 334.3,345.9 C334.3,344.4 333.6,342.6 333.6,340.9 C333.6,339.2 333.9,340.0 334.2,339.5 C334.6,339.0 334.5,339.0 334.9,338.9 C335.4,338.8 335.2,337.9 335.9,339.0 C336.7,340.1 337.0,342.1 337.7,343.0 C338.4,344.0 338.2,344.1 338.5,342.5 C338.7,340.9 338.4,338.8 338.7,337.0 C338.9,335.2 339.0,336.1 339.4,335.7 C339.8,335.2 339.8,335.3 340.2,335.2 C340.6,335.2 340.6,334.2 341.0,335.6 C341.5,336.9 341.5,339.2 342.0,340.3 C342.4,341.5 342.3,341.6 342.8,339.9 C343.3,338.3 343.3,336.0 343.8,334.2 C344.4,332.3 344.3,333.4 344.7,333.0 C345.2,332.6 345.1,332.6 345.5,332.7 C345.9,332.8 346.0,331.7 346.2,333.3 C346.4,334.8 346.0,337.2 346.3,338.6 C346.5,339.9 346.3,340.0 347.0,338.4 C347.7,336.8 348.1,334.4 348.9,332.5 C349.7,330.7 349.5,331.8 349.9,331.5 C350.4,331.2 350.3,331.2 350.6,331.4 C350.9,331.6 351.2,330.5 351.2,332.2 C351.1,333.9 350.4,336.3 350.3,337.8 C350.3,339.3 350.2,339.3 351.1,337.8 C351.9,336.3 352.7,333.9 353.7,332.1 C354.7,330.4 354.3,331.5 354.8,331.3 C355.2,331.1 355.2,331.0 355.4,331.3 C355.7,331.6 356.1,330.5 355.8,332.4 C355.4,334.2 354.4,336.6 354.1,338.2 C353.8,339.8 353.7,339.7 354.8,338.3 C355.8,336.9 356.9,334.6 358.1,333.0 C359.3,331.4 358.7,332.4 359.2,332.3 C359.6,332.2 359.6,332.2 359.7,332.6 C359.9,333.0 360.5,331.9 359.9,333.8 C359.3,335.6 357.9,337.9 357.4,339.5 C356.9,341.1 356.8,341.1 358.0,339.9 C359.1,338.7 360.5,336.4 361.8,335.0 C363.2,333.7 362.5,334.6 362.9,334.7 C363.3,334.7 363.3,334.6 363.4,335.1 C363.5,335.5 364.2,334.6 363.3,336.4 C362.5,338.2 360.9,340.3 360.2,341.9 C359.4,343.4 359.3,343.3 360.6,342.4 C361.9,341.4 363.5,339.4 364.9,338.3 C366.3,337.1 365.5,338.0 365.9,338.1 C366.3,338.3 366.2,338.2 366.3,338.7 C366.3,339.2 367.1,338.4 366.0,340.1 C364.9,341.8 363.2,343.6 362.2,345.1 C361.3,346.6 361.2,346.5 362.5,345.8 C363.8,345.1 365.6,343.3 367.1,342.5 C368.5,341.7 367.7,342.4 368.0,342.7 C368.3,342.9 368.3,342.8 368.2,343.4 C368.2,343.9 369.0,343.2 367.8,344.8 C366.5,346.3 364.6,347.7 363.6,349.1 C362.5,350.5 362.4,350.3 363.7,349.9 C365.0,349.5 366.9,348.1 368.3,347.6 C369.8,347.1 368.9,347.7 369.1,348.0 C369.4,348.4 369.4,348.3 369.2,348.9 C369.1,349.4 369.9,348.9 368.6,350.2 C367.2,351.6 365.3,352.6 364.1,353.8 C362.9,355.0 362.9,354.8 364.1,354.7 C365.3,354.6 367.2,353.6 368.6,353.5 C370.0,353.3 369.1,353.7 369.3,354.1 C369.4,354.5 369.5,354.4 369.2,355.0 C369.0,355.6 369.9,355.3 368.4,356.3 C367.0,357.4 365.1,358.0 363.8,358.9 C362.5,359.9 362.5,359.7 363.6,359.9 C364.7,360.1 366.6,359.6 367.9,359.8 C369.2,360.0 368.3,360.2 368.4,360.6 C368.5,361.1 368.5,361.0 368.2,361.6 C367.9,362.1 368.8,362.0 367.3,362.8 C365.8,363.5 364.0,363.6 362.7,364.3 C361.4,365.0 361.4,364.8 362.4,365.3 C363.4,365.9 365.2,365.8 366.3,366.3 C367.4,366.9 366.6,366.8 366.6,367.4 C366.6,367.9 366.6,367.8 366.3,368.3 C365.9,368.9 366.7,368.9 365.2,369.3 C363.8,369.8 362.1,369.4 360.8,369.8 C359.5,370.2 359.6,370.0 360.4,370.8 C361.2,371.6 362.8,372.0 363.7,372.9 C364.7,373.8 363.9,373.5 363.8,374.1 C363.7,374.7 363.8,374.6 363.4,375.0 C363.0,375.5 363.7,375.8 362.3,375.8 C360.9,375.9 359.5,375.2 358.2,375.2 C357.0,375.3 357.1,375.1 357.7,376.2Z" stroke="#3d3d3d" stroke-width="1.3" fill="#fff" />
<path d="M359.4,380.5 L356.8,378.5" stroke="#6a6a6a" stroke-width="0.9" fill="none" />
<path d="M355.2,386.3 L353.3,383.3" stroke="#6a6a6a" stroke-width="0.9" fill="none" />
<path d="M350.6,391.3 L349.5,387.6" stroke="#6a6a6a" stroke-width="0.9" fill="none" />
<path d="M345.6,395.5 L345.3,391.1" stroke="#6a6a6a" stroke-width="0.9" fill="none" />
<path d="M340.5,398.6 L341.1,393.7" stroke="#6a6a6a" stroke-width="0.9" fill="none" />
<path d="M335.4,400.5 L336.9,395.4" stroke="#6a6a6a" stroke-width="0.9" fill="none" />
<path d="M330.6,401.3 L332.9,396.1" stroke="#6a6a6a" stroke-width="0.9" fill="none" />
<path d="M326.1,400.8 L329.3,395.8" stroke="#6a6a6a" stroke-width="0.9" fill="none" />
<path d="M322.2,399.1 L326.1,394.4" stroke="#6a6a6a" stroke-width="0.9" fill="none" />
<path d="M319.0,396.2 L323.5,392.0" stroke="#6a6a6a" stroke-width="0.9" fill="none" />
<path d="M316.6,392.2 L321.6,388.7" stroke="#6a6a6a" stroke-width="0.9" fill="none" />
<path d="M315.1,387.3 L320.4,384.7" stroke="#6a6a6a" stroke-width="0.9" fill="none" />
<path d="M314.6,381.7 L320.1,380.0" stroke="#6a6a6a" stroke-width="0.9" fill="none" />
<path d="M315.0,375.6 L320.5,374.9" stroke="#6a6a6a" stroke-width="0.9" fill="none" />
<path d="M316.4,369.1 L321.7,369.5" stroke="#6a6a6a" stroke-width="0.9" fill="none" />
<path d="M318.7,362.5 L323.7,364.0" stroke="#6a6a6a" stroke-width="0.9" fill="none" />
<path d="M321.8,356.1 L326.3,358.6" stroke="#6a6a6a" stroke-width="0.9" fill="none" />
<path d="M325.6,350.1 L329.5,353.5" stroke="#6a6a6a" stroke-width="0.9" fill="none" />
<path d="M330.0,344.7 L333.2,349.0" stroke="#6a6a6a" stroke-width="0.9" fill="none" />
<path d="M334.9,340.1 L337.2,345.1" stroke="#6a6a6a" stroke-width="0.9" fill="none" />
<path d="M339.9,336.4 L341.4,342.0" stroke="#6a6a6a" stroke-width="0.9" fill="none" />
<path d="M345.0,333.9 L345.6,339.8" stroke="#6a6a6a" stroke-width="0.9" fill="none" />
<path d="M350.0,332.5 L349.7,338.6" stroke="#6a6a6a" stroke-width="0.9" fill="none" />
<path d="M354.7,332.4 L353.5,338.4" stroke="#6a6a6a" stroke-width="0.9" fill="none" />
<path d="M358.9,333.5 L357.0,339.3" stroke="#6a6a6a" stroke-width="0.9" fill="none" />
<path d="M362.5,335.8 L359.9,341.2" stroke="#6a6a6a" stroke-width="0.9" fill="none" />
<path d="M365.3,339.3 L362.1,344.0" stroke="#6a6a6a" stroke-width="0.9" fill="none" />
<path d="M367.3,343.7 L363.7,347.7" stroke="#6a6a6a" stroke-width="0.9" fill="none" />
<path d="M368.3,349.0 L364.5,352.1" stroke="#6a6a6a" stroke-width="0.9" fill="none" />
<path d="M368.3,354.9 L364.4,357.0" stroke="#6a6a6a" stroke-width="0.9" fill="none" />
<path d="M367.4,361.2 L363.6,362.3" stroke="#6a6a6a" stroke-width="0.9" fill="none" />
<path d="M365.6,367.8 L362.0,367.8" stroke="#6a6a6a" stroke-width="0.9" fill="none" />
<path d="M362.9,374.3 L359.7,373.2" stroke="#6a6a6a" stroke-width="0.9" fill="none" />
<ellipse cx="342.7" cy="367.5" rx="17.40" ry="30.40" transform="rotate(29.7 342.7 367.5)" stroke="#3d3d3d" stroke-width="1" fill="#fff" />
<ellipse cx="343.1" cy="367.7" rx="15.40" ry="27.50" transform="rotate(29.7 343.1 367.7)" stroke="#3d3d3d" stroke-width="1" fill="#fff" />
<ellipse cx="343.9" cy="368.1" rx="14.00" ry="25.50" transform="rotate(29.7 343.9 368.1)" stroke="#3d3d3d" stroke-width="0.9" fill="none" />
<ellipse cx="344.7" cy="367.0" rx="9.60" ry="16.20" transform="rotate(29.7 344.7 367.0)" stroke="#3d3d3d" stroke-width="1.1" fill="#fff" />
<ellipse cx="346.3" cy="367.9" rx="8.80" ry="15.20" transform="rotate(29.7 346.3 367.9)" stroke="#3d3d3d" stroke-width="0.9" fill="none" />
<ellipse cx="351.3" cy="350.8" rx="1.70" ry="2.60" transform="rotate(29.7 351.3 350.8)" stroke="#3d3d3d" stroke-width="0.9" fill="#fff" />
<ellipse cx="333.5" cy="384.0" rx="1.70" ry="2.60" transform="rotate(29.7 333.5 384.0)" stroke="#3d3d3d" stroke-width="0.9" fill="#fff" />
<ellipse cx="350.6" cy="371.2" rx="6.00" ry="9.60" transform="rotate(29.7 350.6 371.2)" stroke="#3d3d3d" stroke-width="1.2" fill="#fff" />
<ellipse cx="351.4" cy="371.7" rx="4.80" ry="8.00" transform="rotate(29.7 351.4 371.7)" stroke="#3d3d3d" stroke-width="1" fill="#8f8f8f" />
<path d="M346.1,375.7 L349.7,377.8" stroke="#e8e8e8" stroke-width="0.8" fill="none" />
<path d="M346.0,373.8 L349.6,375.9" stroke="#e8e8e8" stroke-width="0.8" fill="none" />
<path d="M346.5,371.6 L350.1,373.7" stroke="#e8e8e8" stroke-width="0.8" fill="none" />
<path d="M347.5,369.5 L351.1,371.6" stroke="#e8e8e8" stroke-width="0.8" fill="none" />
<path d="M348.8,367.5 L352.4,369.6" stroke="#e8e8e8" stroke-width="0.8" fill="none" />
<path d="M350.5,366.0 L354.1,368.1" stroke="#e8e8e8" stroke-width="0.8" fill="none" />
<path d="M352.1,365.0 L355.7,367.1" stroke="#e8e8e8" stroke-width="0.8" fill="none" />
<ellipse cx="353.4" cy="372.9" rx="3.20" ry="5.60" transform="rotate(29.7 353.4 372.9)" stroke="#3d3d3d" stroke-width="0.9" fill="#fff" />
<path d="M348.0,370.6 L371.0,383.7" stroke="#484848" stroke-width="1.15" fill="none" stroke-dasharray="8 2.4 1.6 2.4" stroke-dashoffset="0.00" stroke-linecap="butt"/>
<path d="M374.9,378.5 L387.5,385.7 L387.2,386.3 L393.7,390.0 L394.4,388.7 L409.2,397.2 L409.0,397.5 L419.4,403.4 L418.9,404.4 L424.1,407.4 L423.3,408.8 L428.9,412.0 L424.4,420.0 L418.7,416.8 L417.9,418.1 L412.7,415.2 L412.2,416.1 L401.8,410.2 L401.6,410.5 L386.8,402.1 L387.5,400.8 L381.0,397.1 L380.7,397.7 L368.1,390.5Z" stroke="#3d3d3d" stroke-width="1.1" fill="#fff" />
<ellipse cx="371.5" cy="384.5" rx="3.60" ry="6.90" transform="rotate(29.7 371.5 384.5)" stroke="#3d3d3d" stroke-width="1.1" fill="#fff" />
<path d="M387.5,385.7 L387.9,386.0 L388.2,386.4 L388.4,386.8 L388.6,387.4 L388.6,388.0 L388.6,388.7 L388.6,389.4 L388.4,390.2 L388.2,391.0 L387.9,391.8 L387.5,392.6 L387.1,393.4 L386.6,394.2 L386.1,394.9 L385.6,395.6 L385.0,396.2 L384.4,396.7 L383.8,397.1 L383.2,397.5 L382.6,397.7 L382.1,397.9 L381.6,397.9 L381.1,397.9 L380.7,397.7" stroke="#3d3d3d" stroke-width="1" fill="none" />
<path d="M394.4,388.7 L394.8,389.0 L395.2,389.5 L395.4,390.0 L395.6,390.6 L395.7,391.3 L395.7,392.0 L395.6,392.9 L395.4,393.7 L395.2,394.6 L394.8,395.5 L394.4,396.4 L394.0,397.3 L393.4,398.2 L392.9,399.0 L392.2,399.7 L391.6,400.4 L390.9,401.0 L390.3,401.5 L389.6,401.9 L389.0,402.2 L388.4,402.3 L387.8,402.4 L387.3,402.3 L386.8,402.1" stroke="#3d3d3d" stroke-width="1" fill="none" />
<path d="M409.2,397.2 L409.6,397.5 L409.9,397.9 L410.2,398.4 L410.4,399.0 L410.4,399.7 L410.4,400.5 L410.4,401.3 L410.2,402.1 L409.9,403.0 L409.6,404.0 L409.2,404.9 L408.7,405.7 L408.2,406.6 L407.6,407.4 L407.0,408.2 L406.4,408.8 L405.7,409.4 L405.0,409.9 L404.4,410.3 L403.7,410.6 L403.1,410.8 L402.6,410.8 L402.0,410.7 L401.6,410.5" stroke="#3d3d3d" stroke-width="1" fill="none" />
<path d="M419.4,403.4 L419.8,403.7 L420.1,404.1 L420.4,404.6 L420.5,405.2 L420.6,405.9 L420.6,406.6 L420.5,407.4 L420.4,408.2 L420.1,409.0 L419.8,409.9 L419.4,410.8 L419.0,411.6 L418.5,412.4 L417.9,413.2 L417.3,413.9 L416.7,414.5 L416.1,415.1 L415.5,415.5 L414.9,415.9 L414.3,416.2 L413.7,416.3 L413.1,416.4 L412.6,416.3 L412.2,416.1" stroke="#3d3d3d" stroke-width="1" fill="none" />
<path d="M424.1,407.4 L424.4,407.6 L424.7,408.0 L424.9,408.4 L425.0,408.9 L425.1,409.4 L425.1,410.0 L425.0,410.7 L424.9,411.4 L424.7,412.1 L424.4,412.8 L424.1,413.6 L423.7,414.3 L423.3,415.0 L422.8,415.6 L422.3,416.2 L421.8,416.8 L421.3,417.3 L420.7,417.7 L420.2,418.0 L419.7,418.2 L419.2,418.3 L418.7,418.4 L418.3,418.3 L417.9,418.1" stroke="#3d3d3d" stroke-width="1" fill="none" />
<path d="M428.9,412.0 L429.2,412.2 L429.4,412.4 L429.6,412.7 L429.7,413.1 L429.7,413.5 L429.7,414.0 L429.7,414.5 L429.6,415.0 L429.5,415.5 L429.3,416.1 L429.0,416.6 L428.7,417.2 L428.4,417.7 L428.1,418.2 L427.7,418.6 L427.3,419.0 L426.9,419.4 L426.5,419.6 L426.1,419.9 L425.7,420.0 L425.4,420.1 L425.0,420.1 L424.7,420.1 L424.4,420.0" stroke="#3d3d3d" stroke-width="1.1" fill="none" />
<path d="M375.1,379.9 L386.7,386.5" stroke="#161616" stroke-width="1.35" fill="none" />
<path d="M374.1,381.5 L385.8,388.2" stroke="#161616" stroke-width="1.35" fill="none" />
<path d="M373.2,383.2 L384.8,389.8" stroke="#161616" stroke-width="1.35" fill="none" />
<path d="M372.2,384.8 L383.9,391.5" stroke="#161616" stroke-width="1.35" fill="none" />
<path d="M371.3,386.5 L382.9,393.1" stroke="#161616" stroke-width="1.35" fill="none" />
<path d="M370.4,388.1 L382.0,394.8" stroke="#161616" stroke-width="1.35" fill="none" />
<path d="M369.4,389.8 L381.1,396.4" stroke="#161616" stroke-width="1.35" fill="none" />
<path d="M394.6,390.5 L408.0,398.2" stroke="#303030" stroke-width="1.3" fill="none" />
<path d="M393.7,392.1 L407.1,399.8" stroke="#303030" stroke-width="1.3" fill="none" />
<path d="M392.8,393.7 L406.2,401.3" stroke="#303030" stroke-width="1.3" fill="none" />
<path d="M391.8,395.4 L405.2,403.1" stroke="#303030" stroke-width="1.3" fill="none" />
<path d="M390.8,397.1 L404.2,404.8" stroke="#303030" stroke-width="1.3" fill="none" />
<path d="M389.8,398.9 L403.3,406.5" stroke="#303030" stroke-width="1.3" fill="none" />
<path d="M388.8,400.6 L402.3,408.3" stroke="#303030" stroke-width="1.3" fill="none" />
<path d="M374.9,378.5 L387.5,385.7" stroke="#333" stroke-width="1.8" fill="none" />
<path d="M394.4,388.7 L409.2,397.2" stroke="#333" stroke-width="1.5" fill="none" />
<ellipse cx="424.9" cy="415.0" rx="1.30" ry="2.40" transform="rotate(29.7 424.9 415.0)" stroke="#3d3d3d" stroke-width="0.8" fill="none" />
<path d="M436.8,429.1 L435.6,429.7 L434.5,430.0 L433.4,430.2 L432.3,430.1 L431.4,429.7 L430.5,429.2 L429.8,428.5 L429.2,427.6 L428.8,426.5 L428.6,425.3 L428.5,424.0 L428.6,422.6 L428.9,421.2 L429.4,419.7 L430.0,418.3 L430.7,416.9 L431.6,415.5 L432.6,414.3 L433.6,413.2 L434.7,412.3 L435.9,411.6 L437.1,411.1 L438.2,410.7 L439.3,410.6 L440.4,410.7 L441.3,411.0 L442.1,411.6 L442.8,412.3 L443.4,413.2 L443.8,414.3 L444.0,415.5 L444.1,416.8 L443.9,418.2 L443.7,419.7 L443.2,421.2 L442.6,422.6 L441.8,424.0 L440.9,425.3 L440.0,426.5 L438.9,427.6 L438.4,426.1 L439.2,425.3 L439.9,424.3 L440.6,423.3 L441.2,422.2 L441.7,421.0 L442.1,419.9 L442.4,418.7 L442.5,417.6 L442.5,416.6 L442.4,415.7 L442.1,414.8 L441.7,414.1 L441.2,413.6 L440.6,413.2 L439.9,413.0 L439.1,412.9 L438.3,413.0 L437.4,413.3 L436.5,413.8 L435.6,414.4 L434.8,415.1 L434.0,416.0 L433.2,416.9 L432.5,418.0 L431.9,419.1 L431.4,420.2 L431.1,421.4 L430.8,422.5 L430.7,423.6 L430.7,424.6 L430.9,425.6 L431.1,426.4 L431.5,427.1 L432.0,427.6 L432.7,428.0 L433.4,428.2 L434.1,428.3 L435.0,428.1 L435.8,427.8 L436.7,427.4Z" stroke="#3d3d3d" stroke-width="1.05" fill="#e3e3e3" />
<path d="M428.6,427.8 L428.2,427.1 L427.9,426.4 L427.6,425.6 L427.5,424.7 L427.4,423.7 L427.5,422.7 L427.6,421.7 L427.8,420.7 L428.1,419.6 L428.5,418.5 L428.9,417.5 L429.5,416.5 L430.1,415.5 L430.7,414.5 L431.5,413.7 L432.2,412.9 L433.0,412.2 L433.8,411.5 L434.7,411.0 L435.5,410.6 L436.4,410.3 L437.2,410.1 L438.0,410.0 L438.8,410.0" stroke="#3d3d3d" stroke-width="0.9" fill="none" />
<ellipse cx="453.3" cy="430.8" rx="10.20" ry="16.60" transform="rotate(29.7 453.3 430.8)" stroke="#3d3d3d" stroke-width="1.1" fill="#fff" />
<ellipse cx="456.3" cy="432.5" rx="10.20" ry="16.60" transform="rotate(29.7 456.3 432.5)" stroke="#3d3d3d" stroke-width="1.2" fill="#fff" />
<ellipse cx="456.5" cy="432.6" rx="8.50" ry="14.20" transform="rotate(29.7 456.5 432.6)" stroke="#3d3d3d" stroke-width="1" fill="none" />
<ellipse cx="456.7" cy="432.7" rx="7.40" ry="12.60" transform="rotate(29.7 456.7 432.7)" stroke="#3d3d3d" stroke-width="1" fill="#e0e0e0" />
<ellipse cx="458.7" cy="440.1" rx="1.50" ry="2.00" transform="rotate(29.7 458.7 440.1)" stroke="#3d3d3d" stroke-width="0.9" fill="#fff" />
<ellipse cx="450.5" cy="441.4" rx="1.50" ry="2.00" transform="rotate(29.7 450.5 441.4)" stroke="#3d3d3d" stroke-width="0.9" fill="#fff" />
<ellipse cx="450.5" cy="431.3" rx="1.50" ry="2.00" transform="rotate(29.7 450.5 431.3)" stroke="#3d3d3d" stroke-width="0.9" fill="#fff" />
<ellipse cx="459.3" cy="422.9" rx="1.50" ry="2.00" transform="rotate(29.7 459.3 422.9)" stroke="#3d3d3d" stroke-width="0.9" fill="#fff" />
<ellipse cx="464.3" cy="427.5" rx="1.50" ry="2.00" transform="rotate(29.7 464.3 427.5)" stroke="#3d3d3d" stroke-width="0.9" fill="#fff" />
<ellipse cx="456.9" cy="432.8" rx="5.00" ry="8.80" transform="rotate(29.7 456.9 432.8)" stroke="#3d3d3d" stroke-width="1.2" fill="#fff" />
<ellipse cx="457.1" cy="433.0" rx="3.80" ry="6.80" transform="rotate(29.7 457.1 433.0)" stroke="#3d3d3d" stroke-width="1.2" fill="#b5b5b5" />
<ellipse cx="457.9" cy="433.5" rx="2.60" ry="4.80" transform="rotate(29.7 457.9 433.5)" stroke="#3d3d3d" stroke-width="1" fill="#fff" />
<path d="M453.3,430.8 L463.3,436.5" stroke="#484848" stroke-width="1.15" fill="none" stroke-dasharray="8 2.4 1.6 2.4" stroke-dashoffset="0.00" stroke-linecap="butt"/>
<ellipse cx="479.6" cy="445.4" rx="10.60" ry="17.80" transform="rotate(29.7 479.6 445.4)" stroke="#3d3d3d" stroke-width="1.2" fill="none" />
<ellipse cx="479.9" cy="445.6" rx="9.00" ry="15.60" transform="rotate(29.7 479.9 445.6)" stroke="#3d3d3d" stroke-width="1" fill="none" />
<path d="M467.2,457.5 L466.6,456.4 L466.3,455.2 L466.0,453.8 L465.9,452.4 L465.9,450.9 L466.0,449.3 L466.3,447.7 L466.7,446.1 L467.2,444.4 L467.8,442.7 L468.5,441.1 L469.4,439.5 L470.3,438.0 L471.4,436.5 L472.5,435.1 L473.6,433.8 L474.9,432.6 L476.1,431.6 L477.4,430.7 L478.7,429.9 L480.0,429.3 L481.3,428.8 L482.5,428.5 L483.7,428.4" stroke="#3d3d3d" stroke-width="0.9" fill="none" />
<ellipse cx="267.4" cy="447.7" rx="4.60" ry="7.60" transform="rotate(29.7 267.4 447.7)" stroke="#3d3d3d" stroke-width="1.2" fill="#3a3a3a" />
<path d="M263.6,454.3 L266.2,455.8 L273.8,442.6 L271.2,441.1Z" stroke="#3d3d3d" stroke-width="1" fill="#3a3a3a" />
<ellipse cx="270.0" cy="449.2" rx="4.60" ry="7.60" transform="rotate(29.7 270.0 449.2)" stroke="#3d3d3d" stroke-width="1.3" fill="#fff" />
<ellipse cx="270.2" cy="449.3" rx="3.20" ry="5.60" transform="rotate(29.7 270.2 449.3)" stroke="#3d3d3d" stroke-width="1.3" fill="#d0d0d0" />
<ellipse cx="270.9" cy="449.7" rx="2.20" ry="4.00" transform="rotate(29.7 270.9 449.7)" stroke="#3d3d3d" stroke-width="0.9" fill="#fff" />
<path d="M268.0,448.1 L276.0,452.6" stroke="#484848" stroke-width="1.15" fill="none" stroke-dasharray="8 2.4 1.6 2.4" stroke-dashoffset="0.00" stroke-linecap="butt"/>
<path d="M282.3,452.3 L288.4,455.8 L288.8,455.0 L298.4,460.5 L298.2,460.8 L302.5,463.3 L302.0,464.3 L306.3,466.7 L305.9,467.4 L309.0,469.2 L306.8,473.0 L303.7,471.3 L303.3,472.0 L299.0,469.5 L298.4,470.4 L294.1,468.0 L293.9,468.3 L284.4,462.9 L284.8,462.1 L278.7,458.6Z" stroke="#3d3d3d" stroke-width="1.1" fill="#fff" />
<ellipse cx="280.5" cy="455.5" rx="2.00" ry="3.60" transform="rotate(29.7 280.5 455.5)" stroke="#3d3d3d" stroke-width="1.1" fill="#fff" />
<path d="M288.8,455.0 L289.0,455.2 L289.2,455.5 L289.4,455.8 L289.5,456.1 L289.5,456.5 L289.5,457.0 L289.5,457.4 L289.4,458.0 L289.2,458.5 L289.0,459.0 L288.8,459.5 L288.5,460.1 L288.2,460.6 L287.9,461.0 L287.5,461.5 L287.2,461.9 L286.8,462.2 L286.4,462.5 L286.0,462.7 L285.6,462.9 L285.3,463.0 L284.9,463.0 L284.6,463.0 L284.4,462.9" stroke="#3d3d3d" stroke-width="1" fill="none" />
<path d="M298.4,460.5 L298.6,460.7 L298.8,460.9 L298.9,461.2 L299.0,461.6 L299.1,462.0 L299.1,462.4 L299.0,462.9 L298.9,463.4 L298.8,463.9 L298.6,464.5 L298.4,465.0 L298.1,465.5 L297.8,466.0 L297.4,466.5 L297.1,466.9 L296.7,467.3 L296.3,467.7 L295.9,467.9 L295.6,468.2 L295.2,468.3 L294.8,468.4 L294.5,468.5 L294.2,468.4 L293.9,468.3" stroke="#3d3d3d" stroke-width="1" fill="none" />
<path d="M302.5,463.3 L302.7,463.5 L302.9,463.7 L303.0,464.0 L303.1,464.3 L303.2,464.7 L303.2,465.1 L303.1,465.5 L303.0,466.0 L302.9,466.4 L302.7,466.9 L302.5,467.4 L302.3,467.9 L302.0,468.3 L301.7,468.8 L301.3,469.2 L301.0,469.5 L300.7,469.8 L300.3,470.1 L300.0,470.3 L299.6,470.5 L299.3,470.6 L299.0,470.6 L298.7,470.5 L298.4,470.4" stroke="#3d3d3d" stroke-width="1" fill="none" />
<path d="M306.3,466.7 L306.5,466.9 L306.6,467.0 L306.7,467.2 L306.8,467.5 L306.8,467.7 L306.8,468.0 L306.8,468.4 L306.7,468.7 L306.6,469.0 L306.5,469.4 L306.3,469.7 L306.1,470.1 L305.9,470.4 L305.7,470.7 L305.5,471.0 L305.2,471.3 L305.0,471.5 L304.7,471.7 L304.4,471.9 L304.2,472.0 L303.9,472.0 L303.7,472.1 L303.5,472.0 L303.3,472.0" stroke="#3d3d3d" stroke-width="1" fill="none" />
<path d="M288.9,456.8 L297.2,461.5" stroke="#3a3a3a" stroke-width="1.1" fill="none" />
<path d="M288.0,458.4 L296.3,463.1" stroke="#3a3a3a" stroke-width="1.1" fill="none" />
<path d="M287.1,460.1 L295.3,464.8" stroke="#3a3a3a" stroke-width="1.1" fill="none" />
<path d="M286.1,461.9 L294.3,466.6" stroke="#3a3a3a" stroke-width="1.1" fill="none" />
<path d="M288.8,455.0 L298.4,460.5" stroke="#333" stroke-width="1.6" fill="none" />
<path d="M284.9,453.8 L283.1,457.0" stroke="#3d3d3d" stroke-width="0.8" fill="none" />
<ellipse cx="311.4" cy="473.3" rx="6.40" ry="10.20" transform="rotate(29.7 311.4 473.3)" stroke="#3d3d3d" stroke-width="1.1" fill="#fff" />
<ellipse cx="314.0" cy="474.8" rx="6.40" ry="10.20" transform="rotate(29.7 314.0 474.8)" stroke="#3d3d3d" stroke-width="1.3" fill="#fff" />
<ellipse cx="314.2" cy="474.9" rx="5.00" ry="8.20" transform="rotate(29.7 314.2 474.9)" stroke="#333" stroke-width="2" fill="#fff" />
<ellipse cx="314.6" cy="475.1" rx="3.20" ry="5.60" transform="rotate(29.7 314.6 475.1)" stroke="#3d3d3d" stroke-width="1.1" fill="#fff" />
<path d="M313.3,480.6 L312.9,480.4 L312.5,480.2 L312.2,479.9 L312.0,479.4 L311.9,478.9 L311.8,478.3 L311.8,477.7 L311.9,477.0 L312.0,476.3 L312.2,475.6 L312.5,474.9 L312.9,474.2 L313.3,473.6 L313.8,472.9 L314.3,472.4 L314.8,471.9 L315.3,471.5 L315.9,471.2 L316.4,470.9 L316.9,470.8 L317.4,470.8 L317.9,470.9 L318.3,471.1 L318.6,471.3" stroke="#3d3d3d" stroke-width="1.2" fill="none" />
<path d="M312.0,473.7 L321.0,478.8" stroke="#484848" stroke-width="1.15" fill="none" stroke-dasharray="8 2.4 1.6 2.4" stroke-dashoffset="0.00" stroke-linecap="butt"/>
<path d="M333.3,492.3 L332.3,492.9 L331.2,493.3 L330.2,493.5 L329.2,493.5 L328.3,493.3 L327.5,493.0 L326.7,492.4 L326.1,491.7 L325.7,490.8 L325.4,489.8 L325.2,488.6 L325.2,487.4 L325.4,486.1 L325.7,484.7 L326.2,483.4 L326.8,482.1 L327.5,480.8 L328.3,479.7 L329.2,478.6 L330.2,477.6 L331.3,476.8 L332.3,476.2 L333.4,475.8 L334.4,475.5 L335.4,475.5 L336.4,475.6 L337.2,476.0 L337.9,476.5 L338.6,477.2 L339.0,478.1 L339.4,479.1 L339.6,480.2 L339.6,481.4 L339.4,482.7 L339.2,484.0 L338.7,485.4 L338.1,486.7 L337.4,488.0 L336.6,489.2 L335.7,490.3 L334.9,488.9 L335.6,488.1 L336.2,487.2 L336.7,486.2 L337.2,485.2 L337.5,484.2 L337.8,483.2 L337.9,482.2 L337.9,481.3 L337.8,480.4 L337.6,479.7 L337.3,479.1 L336.9,478.6 L336.4,478.2 L335.8,477.9 L335.1,477.9 L334.4,477.9 L333.7,478.1 L332.9,478.5 L332.1,479.0 L331.4,479.6 L330.6,480.4 L329.9,481.2 L329.3,482.1 L328.7,483.1 L328.3,484.1 L327.9,485.1 L327.6,486.1 L327.5,487.1 L327.5,488.0 L327.5,488.8 L327.7,489.6 L328.0,490.3 L328.4,490.8 L328.9,491.2 L329.5,491.4 L330.1,491.6 L330.9,491.5 L331.6,491.3 L332.4,491.0 L333.1,490.5Z" stroke="#3d3d3d" stroke-width="1.05" fill="#e3e3e3" />
<path d="M325.2,491.3 L324.9,490.7 L324.5,490.0 L324.3,489.3 L324.2,488.4 L324.1,487.6 L324.1,486.6 L324.3,485.7 L324.4,484.7 L324.7,483.7 L325.1,482.8 L325.5,481.8 L326.0,480.8 L326.6,479.9 L327.2,479.1 L327.8,478.3 L328.5,477.5 L329.3,476.9 L330.1,476.3 L330.8,475.8 L331.6,475.4 L332.4,475.1 L333.2,474.9 L333.9,474.8 L334.6,474.9" stroke="#3d3d3d" stroke-width="0.9" fill="none" />
<ellipse cx="346.6" cy="492.8" rx="6.10" ry="9.80" transform="rotate(29.7 346.6 492.8)" stroke="#3d3d3d" stroke-width="1.1" fill="#fff" />
<ellipse cx="348.0" cy="493.6" rx="6.10" ry="9.80" transform="rotate(29.7 348.0 493.6)" stroke="#3d3d3d" stroke-width="1.3" fill="#cfcfcf" />
<ellipse cx="348.4" cy="493.8" rx="4.00" ry="6.80" transform="rotate(29.7 348.4 493.8)" stroke="#3d3d3d" stroke-width="1.5" fill="#fff" />
<path d="M346.8,500.4 L346.2,500.2 L345.8,499.9 L345.4,499.5 L345.1,498.9 L344.9,498.3 L344.8,497.6 L344.8,496.8 L344.8,496.0 L345.0,495.1 L345.3,494.3 L345.7,493.4 L346.1,492.5 L346.6,491.7 L347.2,491.0 L347.8,490.3 L348.4,489.7 L349.1,489.2 L349.8,488.8 L350.5,488.6 L351.1,488.4 L351.7,488.4 L352.3,488.5 L352.8,488.7 L353.2,489.1" stroke="#3d3d3d" stroke-width="1" fill="none" />
<ellipse cx="362.4" cy="502.0" rx="5.80" ry="9.20" transform="rotate(29.7 362.4 502.0)" stroke="#3d3d3d" stroke-width="1.1" fill="#fff" />
<ellipse cx="363.6" cy="502.7" rx="5.80" ry="9.20" transform="rotate(29.7 363.6 502.7)" stroke="#3d3d3d" stroke-width="1.2" fill="#dcdcdc" />
<ellipse cx="364.1" cy="503.0" rx="2.70" ry="4.40" transform="rotate(29.7 364.1 503.0)" stroke="#3d3d3d" stroke-width="1.2" fill="#fff" />
<path d="M326.0,481.5 L372.0,507.7" stroke="#484848" stroke-width="1.15" fill="none" stroke-dasharray="8 2.4 1.6 2.4" stroke-dashoffset="0.00" stroke-linecap="butt"/>
<ellipse cx="378.2" cy="511.4" rx="4.00" ry="6.20" transform="rotate(29.7 378.2 511.4)" stroke="#3d3d3d" stroke-width="1.2" fill="#3a3a3a" />
<path d="M375.1,516.8 L377.5,518.2 L383.7,507.4 L381.3,506.0Z" stroke="#3d3d3d" stroke-width="1" fill="#3a3a3a" />
<ellipse cx="380.6" cy="512.8" rx="4.00" ry="6.20" transform="rotate(29.7 380.6 512.8)" stroke="#3d3d3d" stroke-width="1.3" fill="#fff" />
<ellipse cx="380.8" cy="512.9" rx="2.60" ry="4.40" transform="rotate(29.7 380.8 512.9)" stroke="#3d3d3d" stroke-width="1.2" fill="#c8c8c8" />
<ellipse cx="381.4" cy="513.3" rx="1.60" ry="3.00" transform="rotate(29.7 381.4 513.3)" stroke="#3d3d3d" stroke-width="0.9" fill="#fff" />
<path d="M382.6,513.9 L390.0,518.0" stroke="#484848" stroke-width="1.15" fill="none" stroke-dasharray="8 2.4 1.6 2.4" stroke-dashoffset="0.00" stroke-linecap="butt"/>
<path d="M502.5,214.8 L503.0,215.6 L503.4,216.4 L503.5,217.1 L503.5,217.8 L503.3,218.5 L502.9,219.0 L502.3,219.4 L501.6,219.7 L500.8,219.8 L499.9,219.8 L499.0,219.6 L498.1,219.3 L497.2,218.9 L496.4,218.3 L495.7,217.6 L495.1,216.9 L494.7,216.1 L494.5,215.4 L494.4,214.6 L494.6,214.0 L494.9,213.4 L495.4,212.9 L496.0,212.6 L496.8,212.4" stroke="#2c2c2c" stroke-width="2.1" fill="none" />
<ellipse cx="491.1" cy="228.0" rx="3.20" ry="4.90" transform="rotate(120.2 491.1 228.0)" stroke="#666" stroke-width="1.3" fill="#fff" />
<ellipse cx="491.6" cy="228.8" rx="3.10" ry="4.70" transform="rotate(120.2 491.6 228.8)" stroke="#555" stroke-width="1.8" fill="#fff" />
<ellipse cx="490.8" cy="230.2" rx="3.10" ry="4.70" transform="rotate(120.2 490.8 230.2)" stroke="#444" stroke-width="1.5" fill="#fff" />
<ellipse cx="485.3" cy="239.7" rx="3.30" ry="5.00" transform="rotate(120.2 485.3 239.7)" stroke="#555" stroke-width="1.6" fill="#fff" />
<ellipse cx="484.3" cy="241.3" rx="3.20" ry="4.80" transform="rotate(120.2 484.3 241.3)" stroke="#3a3a3a" stroke-width="1.7" fill="#fff" />
<path d="M480.8,250.5 L481.5,251.3 L482.0,252.1 L482.3,252.9 L482.3,253.6 L482.2,254.3 L481.9,255.0 L481.4,255.4 L480.7,255.8 L479.9,256.0 L479.0,256.0 L478.0,255.8 L477.0,255.5 L476.1,255.0 L475.3,254.4 L474.6,253.7 L474.0,252.9 L473.6,252.1 L473.5,251.3 L473.5,250.6 L473.7,249.9 L474.2,249.4 L474.8,249.0 L475.6,248.7 L476.5,248.6" stroke="#2c2c2c" stroke-width="2" fill="none" />
<ellipse cx="470.2" cy="265.5" rx="3.10" ry="4.60" transform="rotate(120.2 470.2 265.5)" stroke="#3a3a3a" stroke-width="1.7" fill="#fff" />
<ellipse cx="463.8" cy="276.5" rx="2.70" ry="4.20" transform="rotate(120.2 463.8 276.5)" stroke="#444" stroke-width="1.5" fill="#fff" />
<ellipse cx="457.6" cy="287.3" rx="5.20" ry="8.00" transform="rotate(120.2 457.6 287.3)" stroke="#333" stroke-width="1.4" fill="#fff" />
<ellipse cx="456.6" cy="288.9" rx="4.60" ry="7.60" transform="rotate(120.2 456.6 288.9)" stroke="#2c2c2c" stroke-width="2.6" fill="#fff" />
<ellipse cx="456.2" cy="289.6" rx="2.30" ry="4.00" transform="rotate(120.2 456.2 289.6)" stroke="#333" stroke-width="1.2" fill="#fff" />
<ellipse cx="450.0" cy="300.2" rx="5.20" ry="8.00" transform="rotate(120.2 450.0 300.2)" stroke="#333" stroke-width="1.4" fill="#fff" />
<ellipse cx="449.1" cy="301.9" rx="4.60" ry="7.60" transform="rotate(120.2 449.1 301.9)" stroke="#2c2c2c" stroke-width="2.6" fill="#fff" />
<ellipse cx="448.7" cy="302.5" rx="2.30" ry="4.00" transform="rotate(120.2 448.7 302.5)" stroke="#333" stroke-width="1.2" fill="#fff" />
<ellipse cx="441.9" cy="314.2" rx="3.30" ry="5.00" transform="rotate(120.2 441.9 314.2)" stroke="#777" stroke-width="1.1" fill="#fff" />
<ellipse cx="441.5" cy="314.9" rx="2.00" ry="3.20" transform="rotate(120.2 441.5 314.9)" stroke="#888" stroke-width="0.9" fill="#fff" />
<ellipse cx="434.9" cy="326.2" rx="2.70" ry="4.20" transform="rotate(120.2 434.9 326.2)" stroke="#444" stroke-width="1.5" fill="#fff" />
<path d="M503.5,208.2 L431.0,331.0" stroke="#666" stroke-width="0.8" fill="none" stroke-dasharray="8 2.4 1.6 2.4" stroke-dashoffset="0.00" stroke-linecap="butt"/>
<path d="M429.9,337.1 L428.2,340.1 L428.7,340.4 L422.4,351.2 L422.6,351.3 L418.6,358.3 L418.2,358.1 L416.2,361.5 L411.0,358.5 L413.0,355.0 L412.7,354.8 L416.7,347.9 L416.9,348.0 L423.2,337.2 L423.7,337.5 L425.5,334.5Z" stroke="#3d3d3d" stroke-width="1.1" fill="#fff" />
<path d="M429.8,337.4 L425.3,334.8 L423.8,337.3 L428.3,340.0Z" stroke="#3d3d3d" stroke-width="1" fill="#2f2f2f" />
<path d="M424.5,347.8 L418.8,344.5" stroke="#3d3d3d" stroke-width="0.9" fill="none" />
<path d="M423.3,350.0 L417.6,346.7" stroke="#3d3d3d" stroke-width="0.9" fill="none" />
<path d="M422.0,352.2 L416.3,348.8" stroke="#3d3d3d" stroke-width="0.9" fill="none" />
<path d="M423.2,337.2 L412.7,354.8" stroke="#333" stroke-width="1.6" fill="none" />
<path d="M417.1,360.8 L417.4,364.5 L414.5,372.1 L412.0,373.2 L407.1,371.2 L403.0,367.9 L402.7,365.2 L407.8,358.9 L411.2,357.4Z" stroke="#3d3d3d" stroke-width="1.2" fill="#fff" />
<path d="M416.4,363.7 L413.5,372.2" stroke="#222" stroke-width="1.75" fill="none" />
<path d="M415.4,363.1 L412.1,371.4" stroke="#222" stroke-width="1.75" fill="none" />
<path d="M414.3,362.5 L410.5,370.5" stroke="#222" stroke-width="1.75" fill="none" />
<path d="M413.2,361.8 L409.0,369.6" stroke="#222" stroke-width="1.75" fill="none" />
<path d="M412.1,361.2 L407.4,368.7" stroke="#222" stroke-width="1.75" fill="none" />
<path d="M411.0,360.5 L405.9,367.8" stroke="#222" stroke-width="1.75" fill="none" />
<path d="M409.9,359.9 L404.4,366.9" stroke="#222" stroke-width="1.75" fill="none" />
<path d="M409.0,359.4 L403.1,366.1" stroke="#222" stroke-width="1.75" fill="none" />
<ellipse cx="408.1" cy="369.5" rx="2.40" ry="5.80" transform="rotate(120.2 408.1 369.5)" stroke="#3d3d3d" stroke-width="1.1" fill="#fff" />
<ellipse cx="407.9" cy="369.9" rx="1.40" ry="3.60" transform="rotate(120.2 407.9 369.9)" stroke="#3d3d3d" stroke-width="0.8" fill="none" />
<path d="M636.7,354.0 C637.9,353.3 638.4,352.6 639.5,352.3 C640.6,352.0 641.3,352.1 642.5,352.6 C643.7,353.1 644.6,354.8 646.0,355.2 C647.4,355.6 648.5,354.9 650.0,354.6 C651.5,354.3 652.5,353.7 654.0,353.6 C655.5,353.5 656.6,353.7 658.0,354.0 C659.4,354.3 660.3,354.8 661.5,355.0 C662.7,355.2 663.9,354.7 664.8,355.3 C665.7,355.9 665.8,357.0 666.2,358.5 C666.6,360.0 666.3,361.6 667.2,363.3 C668.1,365.0 669.6,366.3 671.0,368.0 C672.4,369.7 673.9,370.7 675.1,372.6 C676.3,374.5 677.3,376.5 677.4,378.4 C677.5,380.3 675.1,381.5 675.4,383.1 C675.7,384.7 678.0,385.2 678.8,387.0 C679.6,388.8 679.9,390.8 680.0,393.0 C680.1,395.2 680.2,396.8 679.6,399.0 C679.0,401.2 677.8,402.8 676.6,405.2 C675.4,407.6 674.1,409.7 673.0,412.2 C671.9,414.7 671.4,416.4 670.5,419.0 C669.6,421.6 669.0,423.8 668.0,426.2 C667.0,428.6 666.1,429.9 664.8,432.0 C663.5,434.1 662.8,435.4 661.1,437.8 C659.4,440.2 657.6,442.4 655.5,445.0 C653.4,447.6 651.2,449.7 649.5,451.8 C647.8,453.9 647.0,454.8 646.0,456.5 C645.0,458.2 645.2,459.8 644.3,461.0 C643.4,462.2 642.2,463.1 641.0,463.0 C639.8,462.9 638.6,461.2 637.5,460.6 C636.4,460.0 636.1,458.8 635.2,459.6 C634.3,460.4 633.6,463.0 632.6,465.0 C631.6,467.0 630.7,468.8 630.0,470.5 C629.3,472.2 630.0,473.9 628.6,474.5 C627.2,475.1 624.2,473.5 622.3,473.5 C620.4,473.5 620.0,474.5 618.5,474.3 C617.0,474.1 615.6,473.3 614.0,472.6 C612.4,471.9 611.7,471.0 609.5,470.5 C607.3,470.0 604.8,470.6 602.0,469.8 C599.2,469.0 597.4,466.0 594.5,466.0 C591.6,466.0 589.0,468.4 586.0,470.0 C583.0,471.6 580.9,473.1 578.0,475.0 C575.1,476.9 572.9,478.6 570.0,480.5 C567.1,482.4 564.6,484.9 562.0,485.5 C559.4,486.1 558.4,485.7 556.0,484.0 C553.6,482.3 551.8,478.8 549.0,476.0 C546.2,473.2 543.8,471.0 541.0,468.5 C538.2,466.0 536.6,464.4 534.0,462.5 C531.4,460.6 529.1,459.9 527.0,458.0 C524.9,456.1 523.7,454.6 522.5,452.0 C521.3,449.4 520.7,446.8 520.5,444.0 C520.3,441.2 520.5,438.6 521.5,436.5 C522.5,434.4 524.3,433.4 526.0,432.8 C527.7,432.2 529.2,433.7 531.0,433.2 C532.8,432.7 534.2,431.2 536.0,430.0 C537.8,428.8 539.4,427.5 541.0,426.5 C542.6,425.5 543.7,425.8 545.0,424.5 C546.3,423.2 547.4,420.9 548.3,419.5 C549.2,418.1 548.8,418.4 549.8,416.8 C550.8,415.2 552.6,411.5 554.0,410.5 C555.4,409.5 556.1,410.6 557.5,411.2 C558.9,411.8 560.0,413.9 561.5,414.0 C563.0,414.1 563.9,412.4 565.5,411.6 C567.1,410.8 568.1,411.0 570.3,409.9 C572.5,408.8 574.9,407.3 577.5,405.8 C580.1,404.3 582.4,402.9 584.3,401.7 C586.2,400.5 586.3,400.8 588.0,399.5 C589.7,398.2 592.4,396.4 593.6,394.7 C594.8,393.0 594.4,391.5 594.8,390.0 C595.2,388.5 595.0,387.7 595.9,386.6 C596.8,385.5 598.2,384.9 599.5,383.8 C600.8,382.7 601.7,382.3 602.9,380.8 C604.1,379.3 604.7,377.4 606.0,375.5 C607.3,373.6 608.3,371.5 609.9,370.3 C611.5,369.1 612.8,369.6 614.5,369.0 C616.2,368.4 617.7,367.9 619.2,366.8 C620.7,365.7 621.3,364.3 622.6,363.0 C623.9,361.7 624.8,360.7 626.2,359.8 C627.6,358.9 628.7,358.6 630.0,358.0 C631.3,357.4 632.0,357.0 633.2,356.3 C634.4,355.6 635.5,354.7 636.7,354.0Z" stroke="#3d3d3d" stroke-width="1.1" fill="#fff" />
<path d="M634.5,359.8 C635.6,359.4 637.3,358.1 640.0,358.0 C642.7,357.9 644.8,359.2 648.0,359.4 C651.2,359.6 653.2,358.6 656.0,358.8 C658.8,359.0 660.4,359.1 662.0,360.5 C663.6,361.9 662.6,363.7 664.0,366.0 C665.4,368.3 667.2,369.5 669.0,372.0 C670.8,374.5 672.2,376.0 672.8,378.5 C673.4,381.0 671.6,382.0 672.0,384.5 C672.4,387.0 674.4,388.1 675.0,391.0 C675.6,393.9 675.6,396.0 675.0,399.0 C674.4,402.0 673.4,403.0 672.0,406.0 C670.6,409.0 669.5,410.4 668.0,414.0 C666.5,417.6 666.3,420.0 664.5,424.0 C662.7,428.0 661.5,430.1 659.0,434.0 C656.5,437.9 654.8,439.9 652.0,443.5 C649.2,447.1 647.6,449.6 645.0,452.0 C642.4,454.4 641.2,454.5 639.0,455.5 C636.8,456.5 635.8,455.4 634.0,457.0 C632.2,458.6 630.8,462.2 630.0,463.5" stroke="#3d3d3d" stroke-width="0.9" fill="none" />
<path d="M634.5,359.8 C633.3,360.4 631.0,360.8 628.5,362.8 C626.0,364.8 625.1,367.4 622.0,369.6 C618.9,371.8 616.1,370.8 613.0,373.6 C609.9,376.4 609.2,380.3 606.5,383.5 C603.8,386.7 601.3,386.8 599.5,389.4 C597.7,392.0 599.7,393.5 597.6,396.5 C595.5,399.5 593.1,401.5 589.0,404.5 C584.9,407.5 581.6,409.1 577.0,411.5 C572.4,413.9 568.2,415.5 566.0,416.5" stroke="#3d3d3d" stroke-width="0.9" fill="none" />
<rect x="647.3" y="355.2" width="7.5" height="5.5" rx="1.2" transform="rotate(8 647.3 355.2)" fill="#fff" stroke="#3d3d3d" stroke-width="1"/>
<rect x="656.5" y="354.4" width="7" height="5.6" rx="1.2" transform="rotate(12 656.5 354.4)" fill="#fff" stroke="#3d3d3d" stroke-width="1"/>
<rect x="638.2" y="354.0" width="6" height="5.2" rx="1.2" transform="rotate(-8 638.2 354.0)" fill="#fff" stroke="#3d3d3d" stroke-width="1"/>
<rect x="627.3" y="359.8" width="6.2" height="5" rx="1.2" transform="rotate(-38 627.3 359.8)" fill="#fff" stroke="#3d3d3d" stroke-width="1"/>
<rect x="615.5" y="366.6" width="6.4" height="5" rx="1.2" transform="rotate(-30 615.5 366.6)" fill="#fff" stroke="#3d3d3d" stroke-width="1"/>
<rect x="604.3" y="377.5" width="6.4" height="5" rx="1.2" transform="rotate(-52 604.3 377.5)" fill="#fff" stroke="#3d3d3d" stroke-width="1"/>
<rect x="596.6" y="388.5" width="6" height="5" rx="1.2" transform="rotate(-60 596.6 388.5)" fill="#fff" stroke="#3d3d3d" stroke-width="1"/>
<rect x="667.4" y="364.5" width="6.2" height="4.6" rx="1.2" transform="rotate(48 667.4 364.5)" fill="#fff" stroke="#3d3d3d" stroke-width="1"/>
<rect x="675.0" y="379.2" width="5.5" height="4.4" rx="1.2" transform="rotate(70 675.0 379.2)" fill="#fff" stroke="#3d3d3d" stroke-width="1"/>
<circle cx="634.2" cy="357.3" r="1.3" fill="#fff" stroke="#3d3d3d" stroke-width="0.9"/>
<circle cx="645.5" cy="357" r="1.3" fill="#fff" stroke="#3d3d3d" stroke-width="0.9"/>
<circle cx="665.3" cy="359.8" r="1.3" fill="#fff" stroke="#3d3d3d" stroke-width="0.9"/>
<circle cx="676.3" cy="385.3" r="1.3" fill="#fff" stroke="#3d3d3d" stroke-width="0.9"/>
<circle cx="671.4" cy="414.5" r="1.3" fill="#fff" stroke="#3d3d3d" stroke-width="0.9"/>
<circle cx="643" cy="459.3" r="1.3" fill="#fff" stroke="#3d3d3d" stroke-width="0.9"/>
<circle cx="624.8" cy="367.4" r="1.3" fill="#fff" stroke="#3d3d3d" stroke-width="0.9"/>
<circle cx="609.3" cy="375.3" r="1.3" fill="#fff" stroke="#3d3d3d" stroke-width="0.9"/>
<circle cx="599.8" cy="387.2" r="1.3" fill="#fff" stroke="#3d3d3d" stroke-width="0.9"/>
<circle cx="657.3" cy="440.5" r="1.3" fill="#fff" stroke="#3d3d3d" stroke-width="0.9"/>
<ellipse cx="633.1" cy="418.8" rx="18.20" ry="30.00" transform="rotate(29.7 633.1 418.8)" stroke="#3d3d3d" stroke-width="1.1" fill="#fff" />
<ellipse cx="634.3" cy="419.2" rx="16.20" ry="27.40" transform="rotate(29.7 634.3 419.2)" stroke="#3d3d3d" stroke-width="1.1" fill="none" />
<ellipse cx="634.9" cy="419.5" rx="15.00" ry="25.80" transform="rotate(29.7 634.9 419.5)" stroke="#3d3d3d" stroke-width="1" fill="none" />
<path d="M648.1,398.2 L649.8,399.1 L651.3,400.4 L652.5,402.1 L653.4,404.2 L654.0,406.6 L654.2,409.2 L654.2,412.1 L653.8,415.1 L653.0,418.2 L652.0,421.4 L650.6,424.6 L649.0,427.6 L647.2,430.6 L645.2,433.3 L643.0,435.9 L640.6,438.1 L638.3,440.0 L635.8,441.5 L633.4,442.6 L631.1,443.3 L628.8,443.6 L626.8,443.4 L624.9,442.8 L623.2,441.8" stroke="#3d3d3d" stroke-width="0.9" fill="none" />
<path d="M651.4,400.5 L652.6,401.8 L653.6,403.3 L654.4,405.1 L655.0,407.2 L655.2,409.4 L655.2,411.9 L655.0,414.5 L654.5,417.2 L653.7,420.0 L652.7,422.8 L651.5,425.5 L650.1,428.2 L648.5,430.8 L646.7,433.3 L644.8,435.6 L642.8,437.6 L640.7,439.5 L638.6,441.0 L636.5,442.2 L634.4,443.2 L632.4,443.7 L630.4,444.0 L628.6,443.9 L626.9,443.5" stroke="#666" stroke-width="0.8" fill="none" />
<path d="M638.3,392.0 L640.6,360.0" stroke="#3d3d3d" stroke-width="0.95" fill="none" />
<path d="M634.5,391.6 L640.0,360.0" stroke="#3d3d3d" stroke-width="0.95" fill="none" />
<path d="M633.1,394.1 L629.3,364.5" stroke="#3d3d3d" stroke-width="0.95" fill="none" />
<path d="M629.4,394.4 L628.7,364.5" stroke="#3d3d3d" stroke-width="0.95" fill="none" />
<path d="M626.7,398.4 L615.3,374.9" stroke="#3d3d3d" stroke-width="0.95" fill="none" />
<path d="M623.2,399.9 L614.7,375.1" stroke="#3d3d3d" stroke-width="0.95" fill="none" />
<path d="M644.1,391.4 L652.8,360.1" stroke="#3d3d3d" stroke-width="0.95" fill="none" />
<path d="M640.5,390.2 L652.2,359.9" stroke="#3d3d3d" stroke-width="0.95" fill="none" />
<path d="M648.8,392.7 L662.6,362.7" stroke="#3d3d3d" stroke-width="0.95" fill="none" />
<path d="M645.4,391.0 L662.0,362.3" stroke="#3d3d3d" stroke-width="0.95" fill="none" />
<path d="M654.6,399.3 L671.3,379.7" stroke="#3d3d3d" stroke-width="0.95" fill="none" />
<path d="M651.8,396.6 L670.7,379.3" stroke="#3d3d3d" stroke-width="0.95" fill="none" />
<path d="M656.0,410.0 L673.9,399.8" stroke="#3d3d3d" stroke-width="0.95" fill="none" />
<path d="M654.4,406.6 L673.7,399.2" stroke="#3d3d3d" stroke-width="0.95" fill="none" />
<path d="M652.2,423.1 L667.0,423.3" stroke="#3d3d3d" stroke-width="0.95" fill="none" />
<path d="M652.7,419.3 L667.0,422.7" stroke="#3d3d3d" stroke-width="0.95" fill="none" />
<path d="M646.8,431.7 L657.3,437.8" stroke="#3d3d3d" stroke-width="0.95" fill="none" />
<path d="M649.1,428.7 L657.7,437.2" stroke="#3d3d3d" stroke-width="0.95" fill="none" />
<path d="M639.0,439.6 L645.2,451.6" stroke="#3d3d3d" stroke-width="0.95" fill="none" />
<path d="M642.5,438.3 L645.8,451.4" stroke="#3d3d3d" stroke-width="0.95" fill="none" />
<path d="M631.1,444.4 L632.7,459.5" stroke="#3d3d3d" stroke-width="0.95" fill="none" />
<path d="M634.9,444.4 L633.3,459.5" stroke="#3d3d3d" stroke-width="0.95" fill="none" />
<path d="M621.3,403.7 L604.8,388.8" stroke="#3d3d3d" stroke-width="0.95" fill="none" />
<path d="M618.5,406.3 L604.2,389.2" stroke="#3d3d3d" stroke-width="0.95" fill="none" />
<path d="M616.5,409.9 L597.1,403.7" stroke="#3d3d3d" stroke-width="0.95" fill="none" />
<path d="M615.1,413.5 L596.9,404.3" stroke="#3d3d3d" stroke-width="0.95" fill="none" />
<path d="M566.0,416.8 L588.0,409.5 L606.5,409.2" stroke="#3d3d3d" stroke-width="1" fill="none" />
<path d="M566.5,420.3 L589.0,412.6 L604.5,412.4" stroke="#3d3d3d" stroke-width="0.9" fill="none" />
<path d="M560.5,436.5 L584.0,428.2 L604.0,433.0" stroke="#3d3d3d" stroke-width="0.9" fill="none" />
<path d="M570.0,452.0 L604.5,437.0" stroke="#3d3d3d" stroke-width="1" fill="none" />
<path d="M572.5,455.3 L606.0,440.5" stroke="#3d3d3d" stroke-width="0.9" fill="none" />
<path d="M586.6,424.2 L596.8,419.3 L600.8,421.5 L600.6,428.3 L590.4,433.3 L586.8,431.0Z" stroke="#3d3d3d" stroke-width="1" fill="none" />
<path d="M588.6,425.5 L596.7,421.6 L598.8,423.0 L598.7,427.2 L590.6,431.2" stroke="#666" stroke-width="0.8" fill="none" />
<circle cx="582.8" cy="422.6" r="1.5" fill="#fff" stroke="#3d3d3d" stroke-width="1"/>
<path d="M612.5,437.0 L584.5,461.5" stroke="#3d3d3d" stroke-width="0.9" fill="none" />
<path d="M615.5,439.6 L587.5,464.0" stroke="#3d3d3d" stroke-width="0.9" fill="none" />
<path d="M621.0,445.6 L602.5,469.6" stroke="#3d3d3d" stroke-width="0.9" fill="none" />
<path d="M624.0,447.8 L605.5,471.2" stroke="#3d3d3d" stroke-width="0.9" fill="none" />
<path d="M628.6,450.4 L616.5,472.6" stroke="#3d3d3d" stroke-width="0.9" fill="none" />
<path d="M631.6,451.6 L619.5,473.6" stroke="#3d3d3d" stroke-width="0.9" fill="none" />
<path d="M604.0,433.0 L576.0,447.0" stroke="#3d3d3d" stroke-width="0.9" fill="none" />
<path d="M597.5,452.0 L582.8,462.6" stroke="#3d3d3d" stroke-width="0.9" fill="none" />
<path d="M600.0,454.6 L586.0,465.0" stroke="#3d3d3d" stroke-width="0.9" fill="none" />
<path d="M559.6,445.6 L560.5,443.3 L561.8,441.3 L563.4,439.5 L565.2,437.9 L567.3,436.8 L569.4,435.9 L571.7,435.5 L574.0,435.4 L576.3,435.8 L578.6,436.5 L580.6,437.6 L582.5,439.0 L584.2,440.8 L585.5,442.8 L586.6,445.0 L587.3,447.3 L587.7,449.8 L587.6,452.3 L587.3,454.7 L586.5,457.0 L585.4,459.2 L584.0,461.2 L582.4,462.9 L580.5,464.3" stroke="#3d3d3d" stroke-width="1" fill="none" />
<path d="M562.5,444.2 L563.5,442.6 L564.7,441.2 L566.1,439.9 L567.6,438.9 L569.3,438.2 L571.0,437.7 L572.8,437.5 L574.6,437.6 L576.4,438.0 L578.1,438.6 L579.7,439.5 L581.2,440.6 L582.5,442.0 L583.6,443.5 L584.4,445.2 L585.1,447.1 L585.5,449.0 L585.6,450.9 L585.5,452.8 L585.1,454.7 L584.4,456.6 L583.6,458.3 L582.5,459.8 L581.2,461.2" stroke="#3d3d3d" stroke-width="0.9" fill="none" />
<circle cx="574.2" cy="451.4" r="5.4" fill="#fff" stroke="#3d3d3d" stroke-width="1.1"/>
<circle cx="574.6" cy="451.59999999999997" r="3.2" fill="#fff" stroke="#3d3d3d" stroke-width="1.2"/>
<circle cx="575.0" cy="451.79999999999995" r="1.4" fill="#fff" stroke="#3d3d3d" stroke-width="0.9"/>
<path d="M562.5,449.5 C560,455 563,461.5 568,462.5 C572,463 574.5,460 573.5,457.5" stroke="#3d3d3d" stroke-width="1.1" fill="none" />
<path d="M565,450.5 C563.5,455 565.5,459 568.5,459.6" stroke="#3d3d3d" stroke-width="0.9" fill="none" />
<path d="M549.6,417.0 L554.0,410.6 L566.0,419.6 L560.4,436.2 L556.0,444.2 L548.6,437.6Z" stroke="#3d3d3d" stroke-width="1.1" fill="#fff" />
<circle cx="552.6" cy="428.6" r="1.3" fill="#777" stroke="#3d3d3d" stroke-width="0.8"/>
<rect x="521.6" y="437.2" width="8.4" height="6.6" rx="1.6" transform="rotate(-38 521.6 437.2)" fill="#fff" stroke="#3d3d3d" stroke-width="1.05"/>
<rect x="514.8" y="445.6" width="7.2" height="5.6" rx="1.6" transform="rotate(-48 514.8 445.6)" fill="#fff" stroke="#3d3d3d" stroke-width="1.05"/>
<rect x="539.2" y="429.6" width="7.6" height="5.2" rx="1.6" transform="rotate(-32 539.2 429.6)" fill="#fff" stroke="#3d3d3d" stroke-width="1.05"/>
<rect x="563.6" y="413.4" width="7.6" height="5.4" rx="1.6" transform="rotate(-30 563.6 413.4)" fill="#fff" stroke="#3d3d3d" stroke-width="1.05"/>
<rect x="577.6" y="405.2" width="6.6" height="5" rx="1.6" transform="rotate(-30 577.6 405.2)" fill="#fff" stroke="#3d3d3d" stroke-width="1.05"/>
<path d="M529.6,434.4 L539.6,428.2" stroke="#3d3d3d" stroke-width="0.85" fill="none" />
<path d="M530.1,435.9 L540.1,429.7" stroke="#3d3d3d" stroke-width="0.85" fill="none" />
<path d="M530.6,437.4 L540.6,431.2" stroke="#3d3d3d" stroke-width="0.85" fill="none" />
<path d="M531.1,438.9 L541.1,432.7" stroke="#3d3d3d" stroke-width="0.85" fill="none" />
<path d="M547.4,424.6 L551.0,422.4" stroke="#3d3d3d" stroke-width="0.85" fill="none" />
<path d="M548.0,426.1 L551.0,423.8" stroke="#3d3d3d" stroke-width="0.85" fill="none" />
<path d="M548.6,427.6 L551.0,425.2" stroke="#3d3d3d" stroke-width="0.85" fill="none" />
<path d="M570.6,410.0 L578.4,405.6" stroke="#3d3d3d" stroke-width="0.85" fill="none" />
<path d="M571.1,411.5 L578.9,407.1" stroke="#3d3d3d" stroke-width="0.85" fill="none" />
<path d="M571.6,413.0 L579.4,408.6" stroke="#3d3d3d" stroke-width="0.85" fill="none" />
<path d="M507.5,452.0 L512.5,447.0 L515.6,443.6" stroke="#3d3d3d" stroke-width="0.9" fill="none" />
<circle cx="526.4" cy="437.6" r="1.5" fill="#fff" stroke="#3d3d3d" stroke-width="0.9"/>
<circle cx="543.8" cy="429.6" r="2.0" fill="#fff" stroke="#3d3d3d" stroke-width="1"/>
<circle cx="543.8" cy="429.6" r="0.8" fill="#3d3d3d" stroke="none"/>
<path d="M536,441 C538,447.5 542.5,452 548.5,450 C553,448.4 555.5,445.6 556,444.2" stroke="#3d3d3d" stroke-width="1.05" fill="none" />
<path d="M539.4,439.6 C541,444.6 544.4,447.8 548.6,446.4 C551.6,445.4 553,443.6 553.4,442.2" stroke="#3d3d3d" stroke-width="0.9" fill="none" />
<path d="M560.5,477.6 L563.5,473.8" stroke="#3a3a3a" stroke-width="1.15" fill="none" />
<path d="M562.6,478.4 L565.6,474.6" stroke="#3a3a3a" stroke-width="1.15" fill="none" />
<path d="M564.7,479.2 L567.7,475.4" stroke="#3a3a3a" stroke-width="1.15" fill="none" />
<path d="M566.8,480.0 L569.8,476.2" stroke="#3a3a3a" stroke-width="1.15" fill="none" />
<path d="M568.9,480.8 L571.9,477.0" stroke="#3a3a3a" stroke-width="1.15" fill="none" />
<path d="M571.0,481.6 L574.0,477.8" stroke="#3a3a3a" stroke-width="1.15" fill="none" />
<path d="M573.1,482.4 L576.1,478.6" stroke="#3a3a3a" stroke-width="1.15" fill="none" />
<path d="M575.2,483.2 L578.2,479.4" stroke="#3a3a3a" stroke-width="1.15" fill="none" />
<path d="M558.5,484.0 L560.9,481.0" stroke="#3a3a3a" stroke-width="1.1" fill="none" />
<path d="M560.6,484.8 L563.0,481.8" stroke="#3a3a3a" stroke-width="1.1" fill="none" />
<path d="M562.7,485.6 L565.1,482.6" stroke="#3a3a3a" stroke-width="1.1" fill="none" />
<path d="M564.8,486.4 L567.2,483.4" stroke="#3a3a3a" stroke-width="1.1" fill="none" />
<path d="M628.6,474.5 L632.2,466.0 L636.4,466.5 L636.0,459.8" stroke="#3d3d3d" stroke-width="1" fill="none" />
<path d="M618.5,474.3 L621.0,470.6 L625.6,470.8" stroke="#3d3d3d" stroke-width="0.9" fill="none" />
<path d="M602.0,469.8 L604.0,466.4 L609.0,467.2 L609.5,470.5" stroke="#3d3d3d" stroke-width="0.9" fill="none" />
<circle cx="640.8" cy="460" r="1.6" fill="#fff" stroke="#3d3d3d" stroke-width="0.9"/>
<circle cx="634.2" cy="462.8" r="1.2" fill="#fff" stroke="#3d3d3d" stroke-width="0.9"/>
<path d="M538.3,489.4 L539.5,486.0 L541.1,482.6 L543.2,479.5 L545.5,476.9 L548.1,474.7 L550.7,473.2 L553.2,472.4 L555.4,472.4 L557.4,473.1 L558.9,474.5 L560.0,476.6 L560.4,479.3 L560.3,482.3 L559.7,485.7 L558.4,489.1 L556.7,492.4 L554.7,495.4 L552.3,498.1 L549.8,500.2 L547.2,501.7 L544.7,502.4 L542.4,502.4 L540.5,501.6 L539.0,500.1" stroke="#3d3d3d" stroke-width="1.2" fill="none" />
<path d="M540.6,488.6 L541.9,485.6 L543.5,482.7 L545.4,480.1 L547.5,477.8 L549.7,476.0 L552.0,474.8 L554.1,474.1 L556.1,474.2 L557.7,474.9 L559.0,476.2 L559.9,478.1 L560.2,480.4 L560.1,483.1 L559.5,486.0 L558.5,489.0 L557.0,492.0 L555.2,494.7 L553.2,497.2 L551.0,499.2 L548.7,500.6 L546.5,501.5 L544.5,501.7 L542.7,501.3 L541.2,500.2" stroke="#3d3d3d" stroke-width="0.9" fill="none" />
<path d="M482.8,498.8 C482.2,496.7 481.4,493.5 481.4,490.0 C481.4,486.5 482.0,481.2 482.6,478.0 C483.2,474.8 483.6,473.2 485.0,471.0 C486.4,468.8 489.0,466.7 491.0,465.0 C493.0,463.3 495.0,462.2 497.0,461.0 C499.0,459.8 501.2,459.0 503.0,457.5 C504.8,456.0 506.5,454.0 508.0,452.0 C509.5,450.0 510.6,447.8 512.0,445.5 C513.4,443.2 514.9,440.1 516.5,438.0 C518.1,435.9 520.0,433.5 521.8,432.8 C523.5,432.1 525.6,432.9 527.0,433.6 C528.4,434.3 530.0,435.5 530.4,436.8 C530.8,438.1 530.3,440.1 529.6,441.5 C528.9,442.9 527.4,444.1 526.0,445.0 C524.6,445.9 522.8,445.8 521.5,447.0 C520.2,448.2 519.3,450.6 518.0,452.5 C516.7,454.4 515.2,456.6 513.5,458.5 C511.8,460.4 509.7,462.0 507.5,463.6 C505.3,465.2 502.8,466.6 500.5,468.0 C498.2,469.4 495.2,470.7 493.5,472.0 C491.8,473.3 491.1,474.2 490.4,476.0 C489.7,477.8 489.6,480.3 489.4,483.0 C489.2,485.7 489.1,489.5 489.2,492.0 C489.3,494.5 489.3,496.4 490.2,498.0 C491.1,499.6 492.8,500.3 494.5,501.4 C496.2,502.5 498.7,503.5 500.5,504.8 C502.3,506.1 503.8,507.7 505.5,509.0 C507.2,510.3 508.6,511.7 510.5,512.6 C512.4,513.5 514.8,514.1 517.0,514.2 C519.2,514.3 521.5,513.8 523.5,513.0 C525.5,512.2 527.5,510.8 529.0,509.6 C530.5,508.4 531.4,506.3 532.2,506.0 C533.0,505.7 534.3,506.7 534.0,507.6 C533.7,508.5 532.2,510.2 530.6,511.6 C529.0,513.0 526.8,514.8 524.6,515.8 C522.4,516.8 519.6,517.4 517.2,517.4 C514.8,517.4 512.2,516.5 510.0,515.6 C507.8,514.7 505.9,513.2 504.0,511.8 C502.1,510.4 500.5,508.5 498.8,507.4 C497.1,506.3 495.6,505.6 494.0,505.2 C492.4,504.8 490.5,505.4 489.0,505.0 C487.5,504.6 486.2,503.6 485.2,502.6 C484.2,501.6 483.4,500.9 482.8,498.8Z" stroke="#3d3d3d" stroke-width="1.1" fill="#fff" />
<circle cx="492.3" cy="469.6" r="1.05" fill="#fff" stroke="#3d3d3d" stroke-width="0.8"/>
<circle cx="486" cy="500.2" r="1.05" fill="#fff" stroke="#3d3d3d" stroke-width="0.8"/>
<circle cx="507.6" cy="461.4" r="1.05" fill="#fff" stroke="#3d3d3d" stroke-width="0.8"/>
<circle cx="511.2" cy="458.6" r="1.05" fill="#fff" stroke="#3d3d3d" stroke-width="0.8"/>
<circle cx="493" cy="503.2" r="1.05" fill="#fff" stroke="#3d3d3d" stroke-width="0.8"/>
<circle cx="524.6" cy="437.6" r="1.05" fill="#fff" stroke="#3d3d3d" stroke-width="0.8"/>
<path d="M489.5,480.0 L500.0,472.6 L517.4,479.0 L517.6,492.4 L499.4,500.6 L489.3,495.4Z" stroke="#3d3d3d" stroke-width="1.15" fill="#fff" />
<path d="M489.5,480.0 L499.6,484.8 L517.4,479.0" stroke="#3d3d3d" stroke-width="1" fill="none" />
<path d="M499.6,484.8 L499.4,500.6" stroke="#3d3d3d" stroke-width="1" fill="none" />
<ellipse cx="509.2" cy="489.6" rx="6.20" ry="7.20" transform="rotate(-30 509.2 489.6)" stroke="#3d3d3d" stroke-width="1.1" fill="#fff" />
<path d="M499.4,500.6 L500.0,505.0 L503.5,509.4" stroke="#3d3d3d" stroke-width="0.9" fill="none" />
<path d="M507.0,504.6 L508.5,508.4" stroke="#3d3d3d" stroke-width="0.9" fill="none" />
<path d="M523.0,433.0 L637.0,496.8" stroke="#484848" stroke-width="1.15" fill="none" stroke-dasharray="8 2.4 1.6 2.4" stroke-dashoffset="0.00" stroke-linecap="butt"/>
<path d="M522.0,447.0 L637.0,512.0" stroke="#484848" stroke-width="1.15" fill="none" stroke-dasharray="8 2.4 1.6 2.4" stroke-dashoffset="0.00" stroke-linecap="butt"/>
<path d="M516.0,479.2 L553.0,500.8" stroke="#484848" stroke-width="1.15" fill="none" stroke-dasharray="8 2.4 1.6 2.4" stroke-dashoffset="0.00" stroke-linecap="butt"/>
<path d="M540.0,469.5 L596.0,499.0" stroke="#484848" stroke-width="1.15" fill="none" stroke-dasharray="8 2.4 1.6 2.4" stroke-dashoffset="0.00" stroke-linecap="butt"/>
<path d="M488.0,449.4 L640.0,536.3" stroke="#484848" stroke-width="1.15" fill="none" stroke-dasharray="8 2.4 1.6 2.4" stroke-dashoffset="10.96" stroke-linecap="butt"/>
<path d="M624.8,475.3 L611.0,507.5" stroke="#484848" stroke-width="1.15" fill="none" stroke-dasharray="8 2.4 1.6 2.4" stroke-dashoffset="0.00" stroke-linecap="butt"/>
<ellipse cx="599.6" cy="347.4" rx="3.00" ry="3.40" transform="rotate(-25 599.6 347.4)" stroke="#3d3d3d" stroke-width="1.3" fill="#fff" />
<path d="M602.2,347.9 L602.3,348.3 L602.4,348.7 L602.4,349.1 L602.4,349.5 L602.3,349.9 L602.2,350.3 L602.0,350.6 L601.8,350.9 L601.6,351.2 L601.3,351.5 L601.0,351.7 L600.7,351.9 L600.4,352.0 L600.0,352.1 L599.7,352.1 L599.3,352.1 L598.9,352.0 L598.6,351.9 L598.2,351.8 L597.9,351.6 L597.5,351.4 L597.2,351.1 L596.9,350.8 L596.7,350.5" stroke="#3d3d3d" stroke-width="1.2" fill="none" />
<path d="M597.2,350.6 L594.6,356.8 L596.8,357.6 L599.6,351.4Z" stroke="#3d3d3d" stroke-width="1" fill="#fff" />
<path d="M596.6,352.3 L598.8,353.2" stroke="#3d3d3d" stroke-width="0.9" fill="none" />
<path d="M595.8,354.2 L598.0,355.1" stroke="#3d3d3d" stroke-width="0.9" fill="none" />
<path d="M595.0,356.1 L597.2,357.0" stroke="#3d3d3d" stroke-width="0.9" fill="none" />
<ellipse cx="589.6" cy="368.2" rx="2.50" ry="3.70" transform="rotate(105 589.6 368.2)" stroke="#3d3d3d" stroke-width="1.3" fill="#fff" />
<ellipse cx="589.9" cy="369.2" rx="2.50" ry="3.70" transform="rotate(105 589.9 369.2)" stroke="#3d3d3d" stroke-width="1.3" fill="#fff" />
<ellipse cx="590.0" cy="369.4" rx="1.10" ry="1.70" transform="rotate(105 590.0 369.4)" stroke="#3d3d3d" stroke-width="0.9" fill="none" />
<path d="M554.8,500.1 L560.9,503.6 L559.2,506.5 L553.2,503.1Z" stroke="#3d3d3d" stroke-width="1" fill="#2f2f2f" />
<path d="M556.1,501.0 L555.0,504.0" stroke="#bbb" stroke-width="0.6" fill="none" />
<path d="M557.6,501.8 L556.5,504.9" stroke="#bbb" stroke-width="0.6" fill="none" />
<path d="M559.0,502.6 L558.0,505.7" stroke="#bbb" stroke-width="0.6" fill="none" />
<ellipse cx="561.1" cy="505.7" rx="2.00" ry="3.20" transform="rotate(29.7 561.1 505.7)" stroke="#3d3d3d" stroke-width="1.1" fill="#fff" />
<ellipse cx="563.0" cy="506.8" rx="2.00" ry="3.20" transform="rotate(29.7 563.0 506.8)" stroke="#3d3d3d" stroke-width="1.2" fill="#fff" />
<ellipse cx="563.3" cy="506.9" rx="0.90" ry="1.50" transform="rotate(29.7 563.3 506.9)" stroke="#3d3d3d" stroke-width="0.8" fill="none" />
<path d="M637.8,510.5 L643.9,514.0 L642.2,516.9 L636.2,513.5Z" stroke="#3d3d3d" stroke-width="1" fill="#2f2f2f" />
<path d="M639.1,511.4 L638.0,514.4" stroke="#bbb" stroke-width="0.6" fill="none" />
<path d="M640.6,512.2 L639.5,515.3" stroke="#bbb" stroke-width="0.6" fill="none" />
<path d="M642.0,513.0 L641.0,516.1" stroke="#bbb" stroke-width="0.6" fill="none" />
<ellipse cx="644.1" cy="516.1" rx="2.00" ry="3.20" transform="rotate(29.7 644.1 516.1)" stroke="#3d3d3d" stroke-width="1.1" fill="#fff" />
<ellipse cx="646.0" cy="517.2" rx="2.00" ry="3.20" transform="rotate(29.7 646.0 517.2)" stroke="#3d3d3d" stroke-width="1.2" fill="#fff" />
<ellipse cx="646.3" cy="517.3" rx="0.90" ry="1.50" transform="rotate(29.7 646.3 517.3)" stroke="#3d3d3d" stroke-width="0.8" fill="none" />
<circle cx="599.4" cy="500.6" r="3.3" fill="#fff" stroke="#3d3d3d" stroke-width="1.1"/>
<path d="M598.6,503.5 L598.3,503.5 L598.0,503.4 L597.7,503.3 L597.4,503.1 L597.2,503.0 L596.9,502.7 L596.7,502.5 L596.5,502.2 L596.3,501.8 L596.2,501.5 L596.1,501.1 L596.0,500.8 L596.0,500.4 L596.0,500.0 L596.0,499.6 L596.1,499.3 L596.2,498.9 L596.3,498.6 L596.5,498.2 L596.7,497.9 L596.9,497.7 L597.2,497.4 L597.4,497.3 L597.7,497.1" stroke="#888" stroke-width="0.8" fill="none" />
<path d="M589.6,541.2 L593.4,538.8 L598.4,541.2 L598.6,543.6 L597.0,544.8 L597.2,548.2 L594.4,550.0 L590.2,548.0 L590.0,545.0 L588.4,544.0Z" stroke="#3d3d3d" stroke-width="1.1" fill="#fff" />
<path d="M589.6,541.2 L594.4,543.6 L598.4,541.2" stroke="#3d3d3d" stroke-width="0.9" fill="none" />
<path d="M590.0,545.0 L594.2,547.0 L597.0,544.8" stroke="#3d3d3d" stroke-width="0.9" fill="none" />
<path d="M641.5,494.2 L670.2,510.6 L666.3,517.3 L637.7,501.0Z" stroke="#3d3d3d" stroke-width="1.1" fill="#fff" />
<ellipse cx="639.6" cy="497.6" rx="2.30" ry="3.90" transform="rotate(29.7 639.6 497.6)" stroke="#3d3d3d" stroke-width="1.1" fill="#fff" />
<ellipse cx="668.3" cy="514.0" rx="2.30" ry="3.90" transform="rotate(29.7 668.3 514.0)" stroke="#3d3d3d" stroke-width="1.2" fill="#fff" />
<ellipse cx="668.5" cy="514.1" rx="1.40" ry="2.50" transform="rotate(29.7 668.5 514.1)" stroke="#3d3d3d" stroke-width="0.8" fill="none" />
<path d="M647.2,497.4 L647.4,497.6 L647.6,497.8 L647.7,498.1 L647.8,498.4 L647.9,498.8 L647.9,499.2 L647.9,499.6 L647.8,500.0 L647.7,500.5 L647.5,500.9 L647.3,501.4 L647.1,501.9 L646.8,502.3 L646.5,502.7 L646.2,503.1 L645.9,503.4 L645.5,503.7 L645.2,504.0 L644.8,504.1 L644.5,504.3 L644.2,504.3 L643.9,504.4 L643.6,504.3 L643.3,504.2" stroke="#3d3d3d" stroke-width="0.9" fill="none" />
<path d="M648.7,498.3 L648.9,498.4 L649.1,498.7 L649.2,498.9 L649.3,499.2 L649.4,499.6 L649.4,500.0 L649.3,500.4 L649.3,500.9 L649.1,501.3 L649.0,501.8 L648.8,502.3 L648.5,502.7 L648.3,503.1 L648.0,503.5 L647.7,503.9 L647.3,504.3 L647.0,504.6 L646.6,504.8 L646.3,505.0 L646.0,505.1 L645.6,505.2 L645.3,505.2 L645.0,505.2 L644.8,505.1" stroke="#3d3d3d" stroke-width="0.9" fill="none" />
<path d="M662.4,506.1 L662.6,506.3 L662.8,506.5 L662.9,506.8 L663.0,507.1 L663.1,507.4 L663.1,507.8 L663.1,508.3 L663.0,508.7 L662.9,509.2 L662.7,509.6 L662.5,510.1 L662.3,510.5 L662.0,511.0 L661.7,511.4 L661.4,511.7 L661.1,512.1 L660.7,512.4 L660.4,512.6 L660.0,512.8 L659.7,512.9 L659.4,513.0 L659.1,513.0 L658.8,513.0 L658.5,512.9" stroke="#3d3d3d" stroke-width="0.9" fill="none" />
<path d="M663.9,507.0 L664.2,507.2 L664.3,507.4 L664.5,507.7 L664.6,508.0 L664.7,508.3 L664.7,508.7 L664.6,509.1 L664.6,509.6 L664.4,510.0 L664.3,510.5 L664.1,511.0 L663.8,511.4 L663.6,511.9 L663.3,512.3 L663.0,512.6 L662.6,513.0 L662.3,513.3 L661.9,513.5 L661.6,513.7 L661.2,513.8 L660.9,513.9 L660.6,513.9 L660.3,513.9 L660.1,513.8" stroke="#3d3d3d" stroke-width="0.9" fill="none" />
<path d="M667.2,508.8 L667.4,509.0 L667.6,509.2 L667.7,509.5 L667.8,509.8 L667.9,510.2 L667.9,510.6 L667.8,511.0 L667.8,511.4 L667.6,511.9 L667.5,512.3 L667.3,512.8 L667.0,513.3 L666.8,513.7 L666.5,514.1 L666.2,514.5 L665.8,514.8 L665.5,515.1 L665.1,515.3 L664.8,515.5 L664.5,515.7 L664.1,515.7 L663.8,515.8 L663.5,515.7 L663.3,515.6" stroke="#3d3d3d" stroke-width="0.9" fill="none" />
<path d="M638.5,501.5 L666.3,517.3" stroke="#333" stroke-width="1.5" fill="none" />
<ellipse cx="649.8" cy="542.2" rx="10.00" ry="16.80" transform="rotate(29.7 649.8 542.2)" stroke="#3d3d3d" stroke-width="1.1" fill="#fff" />
<ellipse cx="652.6" cy="543.8" rx="10.00" ry="16.80" transform="rotate(29.7 652.6 543.8)" stroke="#3d3d3d" stroke-width="1.2" fill="#fff" />
<path d="M506.5,551.8 L527.6,545.2 L529.8,546.8 L509,553.6 Z" stroke="#858585" stroke-width="1.1" fill="none" stroke-dasharray="1.4 1.2" stroke-linecap="butt"/>
<path d="M529.8,546.8 L529.6,552.4 M509,553.6 L509,572.2 L513.4,570.8 M506.5,551.8 L505.6,570.2 L509,572.2" stroke="#858585" stroke-width="1.1" fill="none" stroke-dasharray="1.4 1.2" stroke-linecap="butt"/>
<path d="M511.6,555.4 L511.4,569.4 M512,555.2 L523,551.6" stroke="#9a9a9a" stroke-width="0.9" fill="none" stroke-dasharray="1.4 1.2" stroke-linecap="butt"/>
<circle cx="517.2" cy="562.2" r="7.3" fill="#fff" stroke="#858585" stroke-width="1.1" stroke-dasharray="1.4 1.2" stroke-linecap="butt"/>
<path d="M517.6,554.9 L525.8,555.4 M517.6,569.5 L525.8,571" stroke="#858585" stroke-width="1.1" fill="none" stroke-dasharray="1.4 1.2" stroke-linecap="butt"/>
<ellipse cx="525.6" cy="563.2" rx="5.9" ry="7.8" fill="#fff" stroke="#858585" stroke-width="1.15" stroke-dasharray="1.4 1.2" stroke-linecap="butt"/>
<path d="M200.0,116.9 L194.4,116.9 L185.8,132.6" stroke="#3d3d3d" stroke-width="1.1" fill="none" stroke-linejoin="round"/>
<text x="209.5" y="117.7" font-size="10.4" text-anchor="middle" fill="#2e2e2e" stroke="#2e2e2e" stroke-width="0.3">43</text>
<path d="M219.4,123.8 L214.4,123.8 L204.4,140.3" stroke="#3d3d3d" stroke-width="1.1" fill="none" stroke-linejoin="round"/>
<text x="228.7" y="124.7" font-size="10.4" text-anchor="middle" fill="#2e2e2e" stroke="#2e2e2e" stroke-width="0.3">42</text>
<path d="M238.5,134.0 L233.1,134.0 L223.5,150.6" stroke="#3d3d3d" stroke-width="1.1" fill="none" stroke-linejoin="round"/>
<text x="247.4" y="134.8" font-size="10.4" text-anchor="middle" fill="#2e2e2e" stroke="#2e2e2e" stroke-width="0.3">41</text>
<rect x="247.30" y="133.73" width="2.53" height="2.02" fill="#fff" stroke="none"/>
<rect x="251.10" y="133.73" width="2.08" height="2.02" fill="#fff" stroke="none"/>
<path d="M256.3,145.6 L251.9,145.6 L242.3,161.9" stroke="#3d3d3d" stroke-width="1.1" fill="none" stroke-linejoin="round"/>
<text x="266.3" y="145.9" font-size="10.4" text-anchor="middle" fill="#2e2e2e" stroke="#2e2e2e" stroke-width="0.3">40</text>
<path d="M216.5,189.5 L222.5,189.5 L232.0,205.5" stroke="#3d3d3d" stroke-width="1.1" fill="none" stroke-linejoin="round"/>
<text x="210.0" y="190.0" font-size="10.4" text-anchor="middle" fill="#2e2e2e" stroke="#2e2e2e" stroke-width="0.3">2</text>
<path d="M357.5,204.5 L351.3,204.5 L338.8,222.5" stroke="#3d3d3d" stroke-width="1.1" fill="none" stroke-linejoin="round"/>
<text x="363.8" y="205.0" font-size="10.4" text-anchor="middle" fill="#2e2e2e" stroke="#2e2e2e" stroke-width="0.3">39</text>
<path d="M386.3,225.0 L381.3,225.0 L372.5,240.0" stroke="#3d3d3d" stroke-width="1.1" fill="none" stroke-linejoin="round"/>
<text x="395.2" y="225.3" font-size="10.4" text-anchor="middle" fill="#2e2e2e" stroke="#2e2e2e" stroke-width="0.3">38</text>
<path d="M281.0,286.8 L275.0,286.8 L266.0,302.5" stroke="#3d3d3d" stroke-width="1.1" fill="none" stroke-linejoin="round"/>
<text x="286.7" y="287.5" font-size="10.4" text-anchor="middle" fill="#2e2e2e" stroke="#2e2e2e" stroke-width="0.3">5</text>
<path d="M214.0,327.5 L220.0,327.5 L227.5,313.3" stroke="#3d3d3d" stroke-width="1.1" fill="none" stroke-linejoin="round"/>
<text x="207.3" y="328.2" font-size="10.4" text-anchor="middle" fill="#2e2e2e" stroke="#2e2e2e" stroke-width="0.3">4</text>
<path d="M194.0,354.5 L199.5,354.5 L208.0,340.0" stroke="#3d3d3d" stroke-width="1.1" fill="none" stroke-linejoin="round"/>
<text x="185.0" y="355.2" font-size="10.4" text-anchor="middle" fill="#2e2e2e" stroke="#2e2e2e" stroke-width="0.3">34</text>
<path d="M255.5,353.2 L260.0,353.2 L269.8,337.8" stroke="#3d3d3d" stroke-width="1.1" fill="none" stroke-linejoin="round"/>
<text x="249.8" y="353.5" font-size="10.4" text-anchor="middle" fill="#2e2e2e" stroke="#2e2e2e" stroke-width="0.3">6</text>
<path d="M311.8,311.5 L305.0,311.5 L295.3,327.3" stroke="#3d3d3d" stroke-width="1.1" fill="none" stroke-linejoin="round"/>
<text x="317.8" y="312.2" font-size="10.4" text-anchor="middle" fill="#2e2e2e" stroke="#2e2e2e" stroke-width="0.3">44</text>
<path d="M330.0,317.5 L325.0,317.5 L315.5,335.0" stroke="#3d3d3d" stroke-width="1.1" fill="none" stroke-linejoin="round"/>
<text x="336.8" y="317.5" font-size="10.4" text-anchor="middle" fill="#2e2e2e" stroke="#2e2e2e" stroke-width="0.3">7</text>
<path d="M306.5,415.0 L312.0,415.0 L321.0,400.0" stroke="#3d3d3d" stroke-width="1.1" fill="none" stroke-linejoin="round"/>
<text x="300.0" y="415.2" font-size="10.4" text-anchor="middle" fill="#2e2e2e" stroke="#2e2e2e" stroke-width="0.3">8</text>
<path d="M382.5,424.5 L387.5,424.5 L398.8,407.5" stroke="#3d3d3d" stroke-width="1.1" fill="none" stroke-linejoin="round"/>
<text x="376.8" y="423.7" font-size="10.4" text-anchor="middle" fill="#2e2e2e" stroke="#2e2e2e" stroke-width="0.3">9</text>
<path d="M417.0,445.0 L422.5,445.0 L432.5,428.8" stroke="#3d3d3d" stroke-width="1.1" fill="none" stroke-linejoin="round"/>
<text x="407.5" y="445.0" font-size="10.4" text-anchor="middle" fill="#2e2e2e" stroke="#2e2e2e" stroke-width="0.3">10</text>
<rect x="401.61" y="443.93" width="2.53" height="2.02" fill="#fff" stroke="none"/>
<rect x="405.42" y="443.93" width="2.08" height="2.02" fill="#fff" stroke="none"/>
<path d="M481.3,402.5 L475.0,402.5 L463.8,417.5" stroke="#3d3d3d" stroke-width="1.1" fill="none" stroke-linejoin="round"/>
<text x="487.5" y="402.5" font-size="10.4" text-anchor="middle" fill="#2e2e2e" stroke="#2e2e2e" stroke-width="0.3">11</text>
<rect x="481.61" y="401.43" width="2.53" height="2.02" fill="#fff" stroke="none"/>
<rect x="485.42" y="401.43" width="2.08" height="2.02" fill="#fff" stroke="none"/>
<rect x="487.40" y="401.43" width="2.53" height="2.02" fill="#fff" stroke="none"/>
<rect x="491.20" y="401.43" width="2.08" height="2.02" fill="#fff" stroke="none"/>
<path d="M455.0,475.0 L460.0,475.0 L470.0,461.3" stroke="#3d3d3d" stroke-width="1.1" fill="none" stroke-linejoin="round"/>
<text x="446.8" y="475.0" font-size="10.4" text-anchor="middle" fill="#2e2e2e" stroke="#2e2e2e" stroke-width="0.3">12</text>
<rect x="440.91" y="473.93" width="2.53" height="2.02" fill="#fff" stroke="none"/>
<rect x="444.72" y="473.93" width="2.08" height="2.02" fill="#fff" stroke="none"/>
<path d="M252.0,471.4 L258.0,471.4 L267.0,455.5" stroke="#3d3d3d" stroke-width="1.1" fill="none" stroke-linejoin="round"/>
<text x="242.5" y="472.0" font-size="10.4" text-anchor="middle" fill="#2e2e2e" stroke="#2e2e2e" stroke-width="0.3">23</text>
<path d="M315.0,444.4 L310.0,444.4 L300.0,459.0" stroke="#3d3d3d" stroke-width="1.1" fill="none" stroke-linejoin="round"/>
<text x="323.6" y="444.7" font-size="10.4" text-anchor="middle" fill="#2e2e2e" stroke="#2e2e2e" stroke-width="0.3">24</text>
<path d="M296.0,498.6 L302.0,498.6 L311.0,483.0" stroke="#3d3d3d" stroke-width="1.1" fill="none" stroke-linejoin="round"/>
<text x="287.0" y="499.1" font-size="10.4" text-anchor="middle" fill="#2e2e2e" stroke="#2e2e2e" stroke-width="0.3">25</text>
<path d="M353.0,460.6 L347.0,460.6 L337.0,476.0" stroke="#3d3d3d" stroke-width="1.1" fill="none" stroke-linejoin="round"/>
<text x="361.0" y="460.7" font-size="10.4" text-anchor="middle" fill="#2e2e2e" stroke="#2e2e2e" stroke-width="0.3">26</text>
<path d="M329.0,517.0 L335.0,517.0 L345.0,502.0" stroke="#3d3d3d" stroke-width="1.1" fill="none" stroke-linejoin="round"/>
<text x="319.6" y="516.7" font-size="10.4" text-anchor="middle" fill="#2e2e2e" stroke="#2e2e2e" stroke-width="0.3">27</text>
<path d="M384.0,481.0 L379.0,481.0 L368.0,496.0" stroke="#3d3d3d" stroke-width="1.1" fill="none" stroke-linejoin="round"/>
<text x="392.4" y="481.1" font-size="10.4" text-anchor="middle" fill="#2e2e2e" stroke="#2e2e2e" stroke-width="0.3">28</text>
<path d="M363.0,534.0 L368.0,534.0 L378.0,518.0" stroke="#3d3d3d" stroke-width="1.1" fill="none" stroke-linejoin="round"/>
<text x="353.6" y="533.7" font-size="10.4" text-anchor="middle" fill="#2e2e2e" stroke="#2e2e2e" stroke-width="0.3">29</text>
<path d="M469.5,517.5 L475.5,517.5 L484.3,502.6" stroke="#3d3d3d" stroke-width="1.1" fill="none" stroke-linejoin="round"/>
<text x="462.9" y="517.7" font-size="10.4" text-anchor="middle" fill="#2e2e2e" stroke="#2e2e2e" stroke-width="0.3">3</text>
<path d="M547.3,523.6 L552.5,523.6 L560.4,508.8" stroke="#3d3d3d" stroke-width="1.1" fill="none" stroke-linejoin="round"/>
<text x="537.1" y="524.7" font-size="10.4" text-anchor="middle" fill="#2e2e2e" stroke="#2e2e2e" stroke-width="0.3">30</text>
<path d="M583.6,518.7 L588.0,518.7 L597.6,504.0" stroke="#3d3d3d" stroke-width="1.1" fill="none" stroke-linejoin="round"/>
<text x="573.0" y="519.6" font-size="10.4" text-anchor="middle" fill="#2e2e2e" stroke="#2e2e2e" stroke-width="0.3">31</text>
<rect x="572.90" y="518.53" width="2.53" height="2.02" fill="#fff" stroke="none"/>
<rect x="576.70" y="518.53" width="2.08" height="2.02" fill="#fff" stroke="none"/>
<path d="M626.0,531.3 L631.8,531.3 L641.4,517.3" stroke="#3d3d3d" stroke-width="1.1" fill="none" stroke-linejoin="round"/>
<text x="616.9" y="532.3" font-size="10.4" text-anchor="middle" fill="#2e2e2e" stroke="#2e2e2e" stroke-width="0.3">32</text>
<path d="M577.5,563.6 L582.8,563.6 L591.5,548.8" stroke="#3d3d3d" stroke-width="1.1" fill="none" stroke-linejoin="round"/>
<text x="567.9" y="564.4" font-size="10.4" text-anchor="middle" fill="#2e2e2e" stroke="#2e2e2e" stroke-width="0.3">33</text>
<path d="M672.0,485.4 L666.8,485.4 L656.3,502.4" stroke="#3d3d3d" stroke-width="1.1" fill="none" stroke-linejoin="round"/>
<text x="679.5" y="486.0" font-size="10.4" text-anchor="middle" fill="#2e2e2e" stroke="#2e2e2e" stroke-width="0.3">35</text>
<path d="M629.0,571.5 L634.4,571.5 L643.0,557.5" stroke="#3d3d3d" stroke-width="1.1" fill="none" stroke-linejoin="round"/>
<text x="619.5" y="572.6" font-size="10.4" text-anchor="middle" fill="#2e2e2e" stroke="#2e2e2e" stroke-width="0.3">13</text>
<rect x="613.61" y="571.53" width="2.53" height="2.02" fill="#fff" stroke="none"/>
<rect x="617.42" y="571.53" width="2.08" height="2.02" fill="#fff" stroke="none"/>
<text x="533.4" y="228.2" font-size="10.4" text-anchor="middle" fill="#2e2e2e" stroke="#2e2e2e" stroke-width="0.3">22</text>
<path d="M524.0,227.7 L518.0,227.5 C509.9,227.5 512.6,219.3 504.5,219.3" stroke="#3d3d3d" stroke-width="1.1" fill="none" />
<text x="455.0" y="218.5" font-size="10.4" text-anchor="middle" fill="#2e2e2e" stroke="#2e2e2e" stroke-width="0.3">21</text>
<rect x="454.90" y="217.43" width="2.53" height="2.02" fill="#fff" stroke="none"/>
<rect x="458.70" y="217.43" width="2.08" height="2.02" fill="#fff" stroke="none"/>
<path d="M465.5,217.8 L471.5,218.2 C480.5,218.2 477.5,226.8 486.5,226.8" stroke="#3d3d3d" stroke-width="1.1" fill="none" />
<text x="518.0" y="252.2" font-size="10.4" text-anchor="middle" fill="#2e2e2e" stroke="#2e2e2e" stroke-width="0.3">20</text>
<path d="M509.0,251.7 L503.0,251.5 C494.5,251.5 497.3,243.3 488.8,243.3" stroke="#3d3d3d" stroke-width="1.1" fill="none" />
<text x="443.5" y="240.7" font-size="10.4" text-anchor="middle" fill="#2e2e2e" stroke="#2e2e2e" stroke-width="0.3">19</text>
<rect x="437.61" y="239.63" width="2.53" height="2.02" fill="#fff" stroke="none"/>
<rect x="441.42" y="239.63" width="2.08" height="2.02" fill="#fff" stroke="none"/>
<text x="503.8" y="277.0" font-size="10.4" text-anchor="middle" fill="#2e2e2e" stroke="#2e2e2e" stroke-width="0.3">18</text>
<rect x="497.91" y="275.93" width="2.53" height="2.02" fill="#fff" stroke="none"/>
<rect x="501.72" y="275.93" width="2.08" height="2.02" fill="#fff" stroke="none"/>
<path d="M494.0,276.6 L488.0,276.3 C479.5,276.3 482.3,268.0 473.8,268.0" stroke="#3d3d3d" stroke-width="1.1" fill="none" />
<text x="430.0" y="265.0" font-size="10.4" text-anchor="middle" fill="#2e2e2e" stroke="#2e2e2e" stroke-width="0.3">15</text>
<rect x="424.11" y="263.93" width="2.53" height="2.02" fill="#fff" stroke="none"/>
<rect x="427.92" y="263.93" width="2.08" height="2.02" fill="#fff" stroke="none"/>
<path d="M440.0,264.6 L446.3,265.0 C455.3,265.0 452.3,275.0 461.3,275.0" stroke="#3d3d3d" stroke-width="1.1" fill="none" />
<text x="475.6" y="325.0" font-size="10.4" text-anchor="middle" fill="#2e2e2e" stroke="#2e2e2e" stroke-width="0.3">16</text>
<rect x="469.71" y="323.93" width="2.53" height="2.02" fill="#fff" stroke="none"/>
<rect x="473.52" y="323.93" width="2.08" height="2.02" fill="#fff" stroke="none"/>
<path d="M466.5,325.4 L460.5,325.0 C451.5,325.0 454.5,316.0 445.5,316.0" stroke="#3d3d3d" stroke-width="1.1" fill="none" />
<text x="400.5" y="314.7" font-size="10.4" text-anchor="middle" fill="#2e2e2e" stroke="#2e2e2e" stroke-width="0.3">15</text>
<rect x="394.61" y="313.63" width="2.53" height="2.02" fill="#fff" stroke="none"/>
<rect x="398.42" y="313.63" width="2.08" height="2.02" fill="#fff" stroke="none"/>
<path d="M409.5,313.9 L416.0,314.3 C424.7,314.3 421.8,323.5 430.5,323.5" stroke="#3d3d3d" stroke-width="1.1" fill="none" />
<text x="455.5" y="357.7" font-size="10.4" text-anchor="middle" fill="#2e2e2e" stroke="#2e2e2e" stroke-width="0.3">14</text>
<rect x="449.61" y="356.63" width="2.53" height="2.02" fill="#fff" stroke="none"/>
<rect x="453.42" y="356.63" width="2.08" height="2.02" fill="#fff" stroke="none"/>
<path d="M446.3,357.0 L440.0,356.7 C431.0,356.7 434.0,348.8 425.0,348.8" stroke="#3d3d3d" stroke-width="1.1" fill="none" />
<text x="566.3" y="339.2" font-size="10.4" text-anchor="middle" fill="#2e2e2e" stroke="#2e2e2e" stroke-width="0.3">36</text>
<text x="556.3" y="359.2" font-size="10.4" text-anchor="middle" fill="#2e2e2e" stroke="#2e2e2e" stroke-width="0.3">37</text>
<path d="M452.8,239.6 L458.0,240.0 C466.6,240.0 463.7,249.3 472.3,249.3" stroke="#3d3d3d" stroke-width="1.1" fill="none" />
<path d="M576.0,338.6 L581.5,339.0 C589.9,339.0 587.1,346.4 595.5,346.4" stroke="#3d3d3d" stroke-width="1.1" fill="none" />
<path d="M566.0,358.7 L571.5,359.0 C580.0,359.0 577.1,366.8 585.6,366.8" stroke="#3d3d3d" stroke-width="1.1" fill="none" />
<text x="411.8" y="288.2" font-size="10.4" text-anchor="middle" fill="#2e2e2e" stroke="#2e2e2e" stroke-width="0.3">17</text>
<rect x="405.91" y="287.13" width="2.53" height="2.02" fill="#fff" stroke="none"/>
<rect x="409.72" y="287.13" width="2.08" height="2.02" fill="#fff" stroke="none"/>
<path d="M420.8,287.8 L427.5,287.8 L449.3,287.5" stroke="#3d3d3d" stroke-width="1.1" fill="none" stroke-linejoin="round"/>
<path d="M427.5,287.8 L441.0,297.3" stroke="#3d3d3d" stroke-width="1.1" fill="none" stroke-linejoin="round"/>
<rect x="158.6" y="193" width="58.6" height="16" fill="#fbfbfd" stroke="#7d7d7d" stroke-width="1.15"/>
<rect x="161.79999999999998" y="196.2" width="52.2" height="9.6" fill="#ccd3e2" stroke="none"/>
<text x="187.9" y="204.6" font-size="10" text-anchor="middle" fill="#2a3350" stroke="#2a3350" stroke-width="0.45" textLength="50.6" lengthAdjust="spacingAndGlyphs">60.290.030</text>
<path d="M158.6,203.6 L153.6,203.6 L142.5,220.0" stroke="#3d3d3d" stroke-width="1.1" fill="none" stroke-linejoin="round"/>
<rect x="346.4" y="250.1" width="59.2" height="15.6" fill="#fbfbfd" stroke="#7d7d7d" stroke-width="1.15"/>
<rect x="349.59999999999997" y="253.29999999999998" width="52.800000000000004" height="9.2" fill="#ccd3e2" stroke="none"/>
<text x="376.0" y="261.4" font-size="10" text-anchor="middle" fill="#2a3350" stroke="#2a3350" stroke-width="0.45" textLength="50.6" lengthAdjust="spacingAndGlyphs">60.290.020</text>
<rect x="446.1" y="574.2" width="59.4" height="15.8" fill="#fbfbfd" stroke="#7d7d7d" stroke-width="1.15"/>
<rect x="449.3" y="577.4000000000001" width="53.0" height="9.4" fill="#ccd3e2" stroke="none"/>
<text x="475.8" y="585.6" font-size="10" text-anchor="middle" fill="#2a3350" stroke="#2a3350" stroke-width="0.45" textLength="50.6" lengthAdjust="spacingAndGlyphs">35.540.020</text>
<path d="M505.6,584.4 L510.2,584.4 L519.2,570.8" stroke="#3d3d3d" stroke-width="1.1" fill="none" stroke-linejoin="round"/>
<rect x="24" y="531" width="102" height="42" fill="#fcfcfe" stroke="none"/>
<path d="M27,551.2 L33.4,545.4 L34.2,551.2Z" fill="#a9b7dd" stroke="none"/>
<path d="M33.8,544.6 Q36.4,540 41.4,539.6 L41.4,551.2 L35.2,551.2Z" fill="#f6c8a8" stroke="none"/>
<path d="M42.4,539.5 Q47.4,539.3 51.2,541.8 L47.6,545.4 L47.6,551.2 L42.4,551.2Z" fill="#a9b7dd" stroke="none"/>
<text x="51.3" y="554.6" font-size="12.3" fill="#a8b3d4" textLength="68.8" lengthAdjust="spacingAndGlyphs">agrartechnik</text>
<text x="51.3" y="565.7" font-size="9.8" font-weight="bold" fill="#a8b3d4" textLength="68.4" lengthAdjust="spacingAndGlyphs">ALTENBERGE</text>
</svg>
<div class="edge"></div>
</body></html>
